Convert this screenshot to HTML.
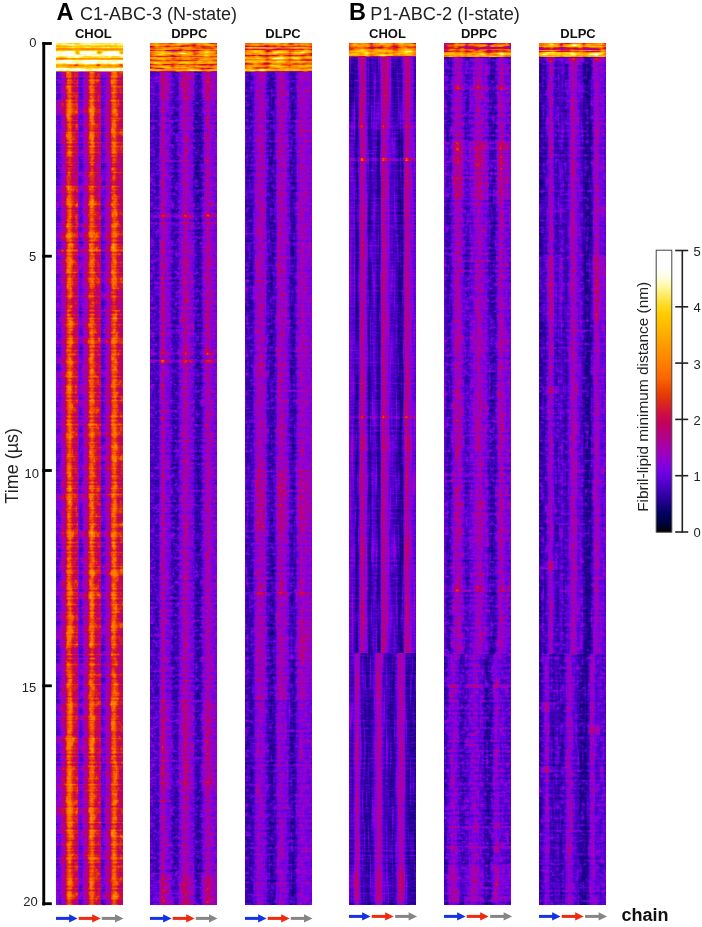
<!DOCTYPE html>
<html><head><meta charset="utf-8"><title>Fibril-lipid minimum distance</title>
<style>
html,body{margin:0;padding:0;background:#fff;}
body{width:702px;height:927px;overflow:hidden;position:relative;}
svg{display:block;position:absolute;left:0;top:0;will-change:transform;}
text{font-family:"Liberation Sans",sans-serif;}
</style></head><body>
<svg width="702" height="927" viewBox="0 0 702 927">
<defs>
<filter id="fac" x="56" y="43" width="67" height="862" filterUnits="userSpaceOnUse" color-interpolation-filters="sRGB">
<feTurbulence type="fractalNoise" baseFrequency="0 0.5" numOctaves="1" seed="3" result="n0"/>
<feColorMatrix in="n0" type="matrix" values="1 0 0 0 0 1 0 0 0 0 1 0 0 0 0 0 0 0 0 1" result="h0"/>
<feComponentTransfer in="h0" result="g0"><feFuncR type="identity"/></feComponentTransfer>
<feComposite in="SourceGraphic" in2="g0" operator="arithmetic" k1="0" k2="1" k3="0.22" k4="-0.110" result="s0"/>
<feTurbulence type="fractalNoise" baseFrequency="0.2 0.14" numOctaves="2" seed="40" result="n1"/>
<feColorMatrix in="n1" type="matrix" values="0 1 0 0 0 0 1 0 0 0 0 1 0 0 0 0 0 0 0 1" result="h1"/>
<feComponentTransfer in="h1" result="g1"><feFuncR type="table" tableValues="0.40 0.40 0.41 0.43 0.46 0.50 0.62 0.78 0.95 1 1"/><feFuncG type="table" tableValues="0.40 0.40 0.41 0.43 0.46 0.50 0.62 0.78 0.95 1 1"/><feFuncB type="table" tableValues="0.40 0.40 0.41 0.43 0.46 0.50 0.62 0.78 0.95 1 1"/></feComponentTransfer>
<feComposite in="s0" in2="g1" operator="arithmetic" k1="0" k2="1" k3="0.2" k4="-0.100" result="s1"/>
<feTurbulence type="fractalNoise" baseFrequency="0.5 0.5" numOctaves="1" seed="77" result="n2"/>
<feColorMatrix in="n2" type="matrix" values="0 0 1 0 0 0 0 1 0 0 0 0 1 0 0 0 0 0 0 1" result="h2"/>
<feComponentTransfer in="h2" result="g2"><feFuncR type="table" tableValues="0.40 0.40 0.41 0.43 0.46 0.50 0.62 0.78 0.95 1 1"/><feFuncG type="table" tableValues="0.40 0.40 0.41 0.43 0.46 0.50 0.62 0.78 0.95 1 1"/><feFuncB type="table" tableValues="0.40 0.40 0.41 0.43 0.46 0.50 0.62 0.78 0.95 1 1"/></feComponentTransfer>
<feComposite in="s1" in2="g2" operator="arithmetic" k1="0" k2="1" k3="0.1" k4="-0.050" result="s2"/>
<feTurbulence type="fractalNoise" baseFrequency="0.01 0.13" numOctaves="1" seed="114" result="n3"/>
<feColorMatrix in="n3" type="matrix" values="1 0 0 0 0 1 0 0 0 0 1 0 0 0 0 0 0 0 0 1" result="h3"/>
<feComponentTransfer in="h3" result="g3"><feFuncR type="table" tableValues="0.40 0.40 0.41 0.43 0.46 0.50 0.62 0.78 0.95 1 1"/><feFuncG type="table" tableValues="0.40 0.40 0.41 0.43 0.46 0.50 0.62 0.78 0.95 1 1"/><feFuncB type="table" tableValues="0.40 0.40 0.41 0.43 0.46 0.50 0.62 0.78 0.95 1 1"/></feComponentTransfer>
<feComposite in="s2" in2="g3" operator="arithmetic" k1="0" k2="1" k3="0.24" k4="-0.120" result="s3"/>
<feComponentTransfer in="s3"><feFuncR type="table" tableValues="0.098 0.098 0.098 0.098 0.192 0.286 0.384 0.478 0.573 0.635 0.678 0.722 0.765 0.812 0.851 0.898 0.941 0.988 1.000 1.000 1.000 1.000 1.000 1.000 1.000 1.000 1.000 1.000 1.000 1.000 1.000 1.000"/><feFuncG type="table" tableValues="0.000 0.000 0.000 0.000 0.000 0.000 0.000 0.000 0.000 0.000 0.000 0.000 0.000 0.055 0.137 0.224 0.310 0.396 0.459 0.522 0.576 0.631 0.686 0.745 0.804 0.859 0.918 0.973 1.000 1.000 1.000 1.000"/><feFuncB type="table" tableValues="0.510 0.510 0.510 0.510 0.647 0.753 0.863 0.890 0.824 0.710 0.592 0.478 0.365 0.251 0.137 0.020 0.000 0.000 0.000 0.000 0.000 0.000 0.000 0.000 0.000 0.137 0.384 0.627 0.875 1.000 1.000 1.000"/></feComponentTransfer></filter>
<filter id="fad" x="150" y="43" width="67" height="862" filterUnits="userSpaceOnUse" color-interpolation-filters="sRGB">
<feTurbulence type="fractalNoise" baseFrequency="0 0.40" numOctaves="1" seed="7" result="n0"/>
<feColorMatrix in="n0" type="matrix" values="1 0 0 0 0 1 0 0 0 0 1 0 0 0 0 0 0 0 0 1" result="h0"/>
<feComponentTransfer in="h0" result="g0"><feFuncR type="identity"/></feComponentTransfer>
<feComposite in="SourceGraphic" in2="g0" operator="arithmetic" k1="0" k2="1" k3="0.14" k4="-0.070" result="s0"/>
<feTurbulence type="fractalNoise" baseFrequency="0.2 0.3" numOctaves="2" seed="44" result="n1"/>
<feColorMatrix in="n1" type="matrix" values="0 1 0 0 0 0 1 0 0 0 0 1 0 0 0 0 0 0 0 1" result="h1"/>
<feComponentTransfer in="h1" result="g1"><feFuncR type="table" tableValues="0.40 0.40 0.41 0.43 0.46 0.50 0.62 0.78 0.95 1 1"/><feFuncG type="table" tableValues="0.40 0.40 0.41 0.43 0.46 0.50 0.62 0.78 0.95 1 1"/><feFuncB type="table" tableValues="0.40 0.40 0.41 0.43 0.46 0.50 0.62 0.78 0.95 1 1"/></feComponentTransfer>
<feComposite in="s0" in2="g1" operator="arithmetic" k1="0" k2="1" k3="0.22" k4="-0.110" result="s1"/>
<feTurbulence type="fractalNoise" baseFrequency="0.45 0.45" numOctaves="1" seed="81" result="n2"/>
<feColorMatrix in="n2" type="matrix" values="0 0 1 0 0 0 0 1 0 0 0 0 1 0 0 0 0 0 0 1" result="h2"/>
<feComponentTransfer in="h2" result="g2"><feFuncR type="table" tableValues="0.40 0.40 0.41 0.43 0.46 0.50 0.62 0.78 0.95 1 1"/><feFuncG type="table" tableValues="0.40 0.40 0.41 0.43 0.46 0.50 0.62 0.78 0.95 1 1"/><feFuncB type="table" tableValues="0.40 0.40 0.41 0.43 0.46 0.50 0.62 0.78 0.95 1 1"/></feComponentTransfer>
<feComposite in="s1" in2="g2" operator="arithmetic" k1="0" k2="1" k3="0.12" k4="-0.060" result="s2"/>
<feComponentTransfer in="s2"><feFuncR type="table" tableValues="0.098 0.098 0.098 0.098 0.192 0.286 0.384 0.478 0.573 0.635 0.678 0.722 0.765 0.812 0.851 0.898 0.941 0.988 1.000 1.000 1.000 1.000 1.000 1.000 1.000 1.000 1.000 1.000 1.000 1.000 1.000 1.000"/><feFuncG type="table" tableValues="0.000 0.000 0.000 0.000 0.000 0.000 0.000 0.000 0.000 0.000 0.000 0.000 0.000 0.055 0.137 0.224 0.310 0.396 0.459 0.522 0.576 0.631 0.686 0.745 0.804 0.859 0.918 0.973 1.000 1.000 1.000 1.000"/><feFuncB type="table" tableValues="0.510 0.510 0.510 0.510 0.647 0.753 0.863 0.890 0.824 0.710 0.592 0.478 0.365 0.251 0.137 0.020 0.000 0.000 0.000 0.000 0.000 0.000 0.000 0.000 0.000 0.137 0.384 0.627 0.875 1.000 1.000 1.000"/></feComponentTransfer></filter>
<filter id="fal" x="245" y="43" width="67" height="862" filterUnits="userSpaceOnUse" color-interpolation-filters="sRGB">
<feTurbulence type="fractalNoise" baseFrequency="0 0.40" numOctaves="1" seed="11" result="n0"/>
<feColorMatrix in="n0" type="matrix" values="1 0 0 0 0 1 0 0 0 0 1 0 0 0 0 0 0 0 0 1" result="h0"/>
<feComponentTransfer in="h0" result="g0"><feFuncR type="identity"/></feComponentTransfer>
<feComposite in="SourceGraphic" in2="g0" operator="arithmetic" k1="0" k2="1" k3="0.13" k4="-0.065" result="s0"/>
<feTurbulence type="fractalNoise" baseFrequency="0.2 0.3" numOctaves="2" seed="48" result="n1"/>
<feColorMatrix in="n1" type="matrix" values="0 1 0 0 0 0 1 0 0 0 0 1 0 0 0 0 0 0 0 1" result="h1"/>
<feComponentTransfer in="h1" result="g1"><feFuncR type="table" tableValues="0.40 0.40 0.41 0.43 0.46 0.50 0.62 0.78 0.95 1 1"/><feFuncG type="table" tableValues="0.40 0.40 0.41 0.43 0.46 0.50 0.62 0.78 0.95 1 1"/><feFuncB type="table" tableValues="0.40 0.40 0.41 0.43 0.46 0.50 0.62 0.78 0.95 1 1"/></feComponentTransfer>
<feComposite in="s0" in2="g1" operator="arithmetic" k1="0" k2="1" k3="0.2" k4="-0.100" result="s1"/>
<feTurbulence type="fractalNoise" baseFrequency="0.45 0.05" numOctaves="1" seed="85" result="n2"/>
<feColorMatrix in="n2" type="matrix" values="0 0 1 0 0 0 0 1 0 0 0 0 1 0 0 0 0 0 0 1" result="h2"/>
<feComponentTransfer in="h2" result="g2"><feFuncR type="table" tableValues="0.40 0.40 0.41 0.43 0.46 0.50 0.62 0.78 0.95 1 1"/><feFuncG type="table" tableValues="0.40 0.40 0.41 0.43 0.46 0.50 0.62 0.78 0.95 1 1"/><feFuncB type="table" tableValues="0.40 0.40 0.41 0.43 0.46 0.50 0.62 0.78 0.95 1 1"/></feComponentTransfer>
<feComposite in="s1" in2="g2" operator="arithmetic" k1="0" k2="1" k3="0.14" k4="-0.070" result="s2"/>
<feComponentTransfer in="s2"><feFuncR type="table" tableValues="0.098 0.098 0.098 0.098 0.192 0.286 0.384 0.478 0.573 0.635 0.678 0.722 0.765 0.812 0.851 0.898 0.941 0.988 1.000 1.000 1.000 1.000 1.000 1.000 1.000 1.000 1.000 1.000 1.000 1.000 1.000 1.000"/><feFuncG type="table" tableValues="0.000 0.000 0.000 0.000 0.000 0.000 0.000 0.000 0.000 0.000 0.000 0.000 0.000 0.055 0.137 0.224 0.310 0.396 0.459 0.522 0.576 0.631 0.686 0.745 0.804 0.859 0.918 0.973 1.000 1.000 1.000 1.000"/><feFuncB type="table" tableValues="0.510 0.510 0.510 0.510 0.647 0.753 0.863 0.890 0.824 0.710 0.592 0.478 0.365 0.251 0.137 0.020 0.000 0.000 0.000 0.000 0.000 0.000 0.000 0.000 0.000 0.137 0.384 0.627 0.875 1.000 1.000 1.000"/></feComponentTransfer></filter>
<filter id="fbc" x="349" y="43" width="67" height="862" filterUnits="userSpaceOnUse" color-interpolation-filters="sRGB">
<feTurbulence type="fractalNoise" baseFrequency="0 0.40" numOctaves="1" seed="19" result="n0"/>
<feColorMatrix in="n0" type="matrix" values="1 0 0 0 0 1 0 0 0 0 1 0 0 0 0 0 0 0 0 1" result="h0"/>
<feComponentTransfer in="h0" result="g0"><feFuncR type="identity"/></feComponentTransfer>
<feComposite in="SourceGraphic" in2="g0" operator="arithmetic" k1="0" k2="1" k3="0.12" k4="-0.060" result="s0"/>
<feTurbulence type="fractalNoise" baseFrequency="0.5 0.03" numOctaves="1" seed="56" result="n1"/>
<feColorMatrix in="n1" type="matrix" values="0 1 0 0 0 0 1 0 0 0 0 1 0 0 0 0 0 0 0 1" result="h1"/>
<feComponentTransfer in="h1" result="g1"><feFuncR type="table" tableValues="0.40 0.40 0.41 0.43 0.46 0.50 0.62 0.78 0.95 1 1"/><feFuncG type="table" tableValues="0.40 0.40 0.41 0.43 0.46 0.50 0.62 0.78 0.95 1 1"/><feFuncB type="table" tableValues="0.40 0.40 0.41 0.43 0.46 0.50 0.62 0.78 0.95 1 1"/></feComponentTransfer>
<feComposite in="s0" in2="g1" operator="arithmetic" k1="0" k2="1" k3="0.2" k4="-0.100" result="s1"/>
<feTurbulence type="fractalNoise" baseFrequency="0.2 0.6" numOctaves="1" seed="93" result="n2"/>
<feColorMatrix in="n2" type="matrix" values="0 0 1 0 0 0 0 1 0 0 0 0 1 0 0 0 0 0 0 1" result="h2"/>
<feComponentTransfer in="h2" result="g2"><feFuncR type="table" tableValues="0.40 0.40 0.41 0.43 0.46 0.50 0.62 0.78 0.95 1 1"/><feFuncG type="table" tableValues="0.40 0.40 0.41 0.43 0.46 0.50 0.62 0.78 0.95 1 1"/><feFuncB type="table" tableValues="0.40 0.40 0.41 0.43 0.46 0.50 0.62 0.78 0.95 1 1"/></feComponentTransfer>
<feComposite in="s1" in2="g2" operator="arithmetic" k1="0" k2="1" k3="0.12" k4="-0.060" result="s2"/>
<feComponentTransfer in="s2"><feFuncR type="table" tableValues="0.098 0.098 0.098 0.098 0.192 0.286 0.384 0.478 0.573 0.635 0.678 0.722 0.765 0.812 0.851 0.898 0.941 0.988 1.000 1.000 1.000 1.000 1.000 1.000 1.000 1.000 1.000 1.000 1.000 1.000 1.000 1.000"/><feFuncG type="table" tableValues="0.000 0.000 0.000 0.000 0.000 0.000 0.000 0.000 0.000 0.000 0.000 0.000 0.000 0.055 0.137 0.224 0.310 0.396 0.459 0.522 0.576 0.631 0.686 0.745 0.804 0.859 0.918 0.973 1.000 1.000 1.000 1.000"/><feFuncB type="table" tableValues="0.510 0.510 0.510 0.510 0.647 0.753 0.863 0.890 0.824 0.710 0.592 0.478 0.365 0.251 0.137 0.020 0.000 0.000 0.000 0.000 0.000 0.000 0.000 0.000 0.000 0.137 0.384 0.627 0.875 1.000 1.000 1.000"/></feComponentTransfer></filter>
<filter id="fbd" x="444" y="43" width="67" height="862" filterUnits="userSpaceOnUse" color-interpolation-filters="sRGB">
<feTurbulence type="fractalNoise" baseFrequency="0 0.40" numOctaves="1" seed="23" result="n0"/>
<feColorMatrix in="n0" type="matrix" values="1 0 0 0 0 1 0 0 0 0 1 0 0 0 0 0 0 0 0 1" result="h0"/>
<feComponentTransfer in="h0" result="g0"><feFuncR type="identity"/></feComponentTransfer>
<feComposite in="SourceGraphic" in2="g0" operator="arithmetic" k1="0" k2="1" k3="0.14" k4="-0.070" result="s0"/>
<feTurbulence type="fractalNoise" baseFrequency="0.2 0.3" numOctaves="2" seed="60" result="n1"/>
<feColorMatrix in="n1" type="matrix" values="0 1 0 0 0 0 1 0 0 0 0 1 0 0 0 0 0 0 0 1" result="h1"/>
<feComponentTransfer in="h1" result="g1"><feFuncR type="table" tableValues="0.40 0.40 0.41 0.43 0.46 0.50 0.62 0.78 0.95 1 1"/><feFuncG type="table" tableValues="0.40 0.40 0.41 0.43 0.46 0.50 0.62 0.78 0.95 1 1"/><feFuncB type="table" tableValues="0.40 0.40 0.41 0.43 0.46 0.50 0.62 0.78 0.95 1 1"/></feComponentTransfer>
<feComposite in="s0" in2="g1" operator="arithmetic" k1="0" k2="1" k3="0.24" k4="-0.120" result="s1"/>
<feTurbulence type="fractalNoise" baseFrequency="0.45 0.08" numOctaves="1" seed="97" result="n2"/>
<feColorMatrix in="n2" type="matrix" values="0 0 1 0 0 0 0 1 0 0 0 0 1 0 0 0 0 0 0 1" result="h2"/>
<feComponentTransfer in="h2" result="g2"><feFuncR type="table" tableValues="0.40 0.40 0.41 0.43 0.46 0.50 0.62 0.78 0.95 1 1"/><feFuncG type="table" tableValues="0.40 0.40 0.41 0.43 0.46 0.50 0.62 0.78 0.95 1 1"/><feFuncB type="table" tableValues="0.40 0.40 0.41 0.43 0.46 0.50 0.62 0.78 0.95 1 1"/></feComponentTransfer>
<feComposite in="s1" in2="g2" operator="arithmetic" k1="0" k2="1" k3="0.14" k4="-0.070" result="s2"/>
<feComponentTransfer in="s2"><feFuncR type="table" tableValues="0.098 0.098 0.098 0.098 0.192 0.286 0.384 0.478 0.573 0.635 0.678 0.722 0.765 0.812 0.851 0.898 0.941 0.988 1.000 1.000 1.000 1.000 1.000 1.000 1.000 1.000 1.000 1.000 1.000 1.000 1.000 1.000"/><feFuncG type="table" tableValues="0.000 0.000 0.000 0.000 0.000 0.000 0.000 0.000 0.000 0.000 0.000 0.000 0.000 0.055 0.137 0.224 0.310 0.396 0.459 0.522 0.576 0.631 0.686 0.745 0.804 0.859 0.918 0.973 1.000 1.000 1.000 1.000"/><feFuncB type="table" tableValues="0.510 0.510 0.510 0.510 0.647 0.753 0.863 0.890 0.824 0.710 0.592 0.478 0.365 0.251 0.137 0.020 0.000 0.000 0.000 0.000 0.000 0.000 0.000 0.000 0.000 0.137 0.384 0.627 0.875 1.000 1.000 1.000"/></feComponentTransfer></filter>
<filter id="fbl" x="539" y="43" width="67" height="862" filterUnits="userSpaceOnUse" color-interpolation-filters="sRGB">
<feTurbulence type="fractalNoise" baseFrequency="0 0.40" numOctaves="1" seed="29" result="n0"/>
<feColorMatrix in="n0" type="matrix" values="1 0 0 0 0 1 0 0 0 0 1 0 0 0 0 0 0 0 0 1" result="h0"/>
<feComponentTransfer in="h0" result="g0"><feFuncR type="identity"/></feComponentTransfer>
<feComposite in="SourceGraphic" in2="g0" operator="arithmetic" k1="0" k2="1" k3="0.13" k4="-0.065" result="s0"/>
<feTurbulence type="fractalNoise" baseFrequency="0.2 0.3" numOctaves="2" seed="66" result="n1"/>
<feColorMatrix in="n1" type="matrix" values="0 1 0 0 0 0 1 0 0 0 0 1 0 0 0 0 0 0 0 1" result="h1"/>
<feComponentTransfer in="h1" result="g1"><feFuncR type="table" tableValues="0.40 0.40 0.41 0.43 0.46 0.50 0.62 0.78 0.95 1 1"/><feFuncG type="table" tableValues="0.40 0.40 0.41 0.43 0.46 0.50 0.62 0.78 0.95 1 1"/><feFuncB type="table" tableValues="0.40 0.40 0.41 0.43 0.46 0.50 0.62 0.78 0.95 1 1"/></feComponentTransfer>
<feComposite in="s0" in2="g1" operator="arithmetic" k1="0" k2="1" k3="0.2" k4="-0.100" result="s1"/>
<feTurbulence type="fractalNoise" baseFrequency="0.45 0.05" numOctaves="1" seed="103" result="n2"/>
<feColorMatrix in="n2" type="matrix" values="0 0 1 0 0 0 0 1 0 0 0 0 1 0 0 0 0 0 0 1" result="h2"/>
<feComponentTransfer in="h2" result="g2"><feFuncR type="table" tableValues="0.40 0.40 0.41 0.43 0.46 0.50 0.62 0.78 0.95 1 1"/><feFuncG type="table" tableValues="0.40 0.40 0.41 0.43 0.46 0.50 0.62 0.78 0.95 1 1"/><feFuncB type="table" tableValues="0.40 0.40 0.41 0.43 0.46 0.50 0.62 0.78 0.95 1 1"/></feComponentTransfer>
<feComposite in="s1" in2="g2" operator="arithmetic" k1="0" k2="1" k3="0.14" k4="-0.070" result="s2"/>
<feComponentTransfer in="s2"><feFuncR type="table" tableValues="0.098 0.098 0.098 0.098 0.192 0.286 0.384 0.478 0.573 0.635 0.678 0.722 0.765 0.812 0.851 0.898 0.941 0.988 1.000 1.000 1.000 1.000 1.000 1.000 1.000 1.000 1.000 1.000 1.000 1.000 1.000 1.000"/><feFuncG type="table" tableValues="0.000 0.000 0.000 0.000 0.000 0.000 0.000 0.000 0.000 0.000 0.000 0.000 0.000 0.055 0.137 0.224 0.310 0.396 0.459 0.522 0.576 0.631 0.686 0.745 0.804 0.859 0.918 0.973 1.000 1.000 1.000 1.000"/><feFuncB type="table" tableValues="0.510 0.510 0.510 0.510 0.647 0.753 0.863 0.890 0.824 0.710 0.592 0.478 0.365 0.251 0.137 0.020 0.000 0.000 0.000 0.000 0.000 0.000 0.000 0.000 0.000 0.137 0.384 0.627 0.875 1.000 1.000 1.000"/></feComponentTransfer></filter>
<filter id="tac" x="56" y="43" width="67" height="29.0" filterUnits="userSpaceOnUse" color-interpolation-filters="sRGB">
<feTurbulence type="fractalNoise" baseFrequency="0.06 0.5" numOctaves="2" seed="514" result="n0"/>
<feColorMatrix in="n0" type="matrix" values="1 0 0 0 0 1 0 0 0 0 1 0 0 0 0 0 0 0 0 1" result="g0"/>
<feComposite in="SourceGraphic" in2="g0" operator="arithmetic" k1="0" k2="1" k3="0.22" k4="-0.110" result="s0"/>
<feTurbulence type="fractalNoise" baseFrequency="0.25 0.3" numOctaves="1" seed="527" result="n1"/>
<feColorMatrix in="n1" type="matrix" values="0 1 0 0 0 0 1 0 0 0 0 1 0 0 0 0 0 0 0 1" result="g1"/>
<feComposite in="s0" in2="g1" operator="arithmetic" k1="0" k2="1" k3="0.14" k4="-0.070" result="s1"/>
<feComponentTransfer in="s1"><feFuncR type="table" tableValues="0.098 0.098 0.098 0.098 0.192 0.286 0.384 0.478 0.573 0.635 0.678 0.722 0.765 0.812 0.851 0.898 0.941 0.988 1.000 1.000 1.000 1.000 1.000 1.000 1.000 1.000 1.000 1.000 1.000 1.000 1.000 1.000"/><feFuncG type="table" tableValues="0.000 0.000 0.000 0.000 0.000 0.000 0.000 0.000 0.000 0.000 0.000 0.000 0.000 0.055 0.137 0.224 0.310 0.396 0.459 0.522 0.576 0.631 0.686 0.745 0.804 0.859 0.918 0.973 1.000 1.000 1.000 1.000"/><feFuncB type="table" tableValues="0.510 0.510 0.510 0.510 0.647 0.753 0.863 0.890 0.824 0.710 0.592 0.478 0.365 0.251 0.137 0.020 0.000 0.000 0.000 0.000 0.000 0.000 0.000 0.000 0.000 0.137 0.384 0.627 0.875 1.000 1.000 1.000"/></feComponentTransfer></filter>
<filter id="tad" x="150" y="43" width="67" height="29.0" filterUnits="userSpaceOnUse" color-interpolation-filters="sRGB">
<feTurbulence type="fractalNoise" baseFrequency="0.07 0.4" numOctaves="2" seed="518" result="n0"/>
<feColorMatrix in="n0" type="matrix" values="1 0 0 0 0 1 0 0 0 0 1 0 0 0 0 0 0 0 0 1" result="g0"/>
<feComposite in="SourceGraphic" in2="g0" operator="arithmetic" k1="0" k2="1" k3="0.46" k4="-0.230" result="s0"/>
<feTurbulence type="fractalNoise" baseFrequency="0.2 0.3" numOctaves="1" seed="531" result="n1"/>
<feColorMatrix in="n1" type="matrix" values="0 1 0 0 0 0 1 0 0 0 0 1 0 0 0 0 0 0 0 1" result="g1"/>
<feComposite in="s0" in2="g1" operator="arithmetic" k1="0" k2="1" k3="0.26" k4="-0.130" result="s1"/>
<feComponentTransfer in="s1"><feFuncR type="table" tableValues="0.098 0.098 0.098 0.098 0.192 0.286 0.384 0.478 0.573 0.635 0.678 0.722 0.765 0.812 0.851 0.898 0.941 0.988 1.000 1.000 1.000 1.000 1.000 1.000 1.000 1.000 1.000 1.000 1.000 1.000 1.000 1.000"/><feFuncG type="table" tableValues="0.000 0.000 0.000 0.000 0.000 0.000 0.000 0.000 0.000 0.000 0.000 0.000 0.000 0.055 0.137 0.224 0.310 0.396 0.459 0.522 0.576 0.631 0.686 0.745 0.804 0.859 0.918 0.973 1.000 1.000 1.000 1.000"/><feFuncB type="table" tableValues="0.510 0.510 0.510 0.510 0.647 0.753 0.863 0.890 0.824 0.710 0.592 0.478 0.365 0.251 0.137 0.020 0.000 0.000 0.000 0.000 0.000 0.000 0.000 0.000 0.000 0.137 0.384 0.627 0.875 1.000 1.000 1.000"/></feComponentTransfer></filter>
<filter id="tal" x="245" y="43" width="67" height="29.0" filterUnits="userSpaceOnUse" color-interpolation-filters="sRGB">
<feTurbulence type="fractalNoise" baseFrequency="0.07 0.4" numOctaves="2" seed="522" result="n0"/>
<feColorMatrix in="n0" type="matrix" values="1 0 0 0 0 1 0 0 0 0 1 0 0 0 0 0 0 0 0 1" result="g0"/>
<feComposite in="SourceGraphic" in2="g0" operator="arithmetic" k1="0" k2="1" k3="0.46" k4="-0.230" result="s0"/>
<feTurbulence type="fractalNoise" baseFrequency="0.2 0.3" numOctaves="1" seed="535" result="n1"/>
<feColorMatrix in="n1" type="matrix" values="0 1 0 0 0 0 1 0 0 0 0 1 0 0 0 0 0 0 0 1" result="g1"/>
<feComposite in="s0" in2="g1" operator="arithmetic" k1="0" k2="1" k3="0.26" k4="-0.130" result="s1"/>
<feComponentTransfer in="s1"><feFuncR type="table" tableValues="0.098 0.098 0.098 0.098 0.192 0.286 0.384 0.478 0.573 0.635 0.678 0.722 0.765 0.812 0.851 0.898 0.941 0.988 1.000 1.000 1.000 1.000 1.000 1.000 1.000 1.000 1.000 1.000 1.000 1.000 1.000 1.000"/><feFuncG type="table" tableValues="0.000 0.000 0.000 0.000 0.000 0.000 0.000 0.000 0.000 0.000 0.000 0.000 0.000 0.055 0.137 0.224 0.310 0.396 0.459 0.522 0.576 0.631 0.686 0.745 0.804 0.859 0.918 0.973 1.000 1.000 1.000 1.000"/><feFuncB type="table" tableValues="0.510 0.510 0.510 0.510 0.647 0.753 0.863 0.890 0.824 0.710 0.592 0.478 0.365 0.251 0.137 0.020 0.000 0.000 0.000 0.000 0.000 0.000 0.000 0.000 0.000 0.137 0.384 0.627 0.875 1.000 1.000 1.000"/></feComponentTransfer></filter>
<filter id="tbc" x="349" y="43" width="67" height="14.0" filterUnits="userSpaceOnUse" color-interpolation-filters="sRGB">
<feTurbulence type="fractalNoise" baseFrequency="0.07 0.4" numOctaves="2" seed="530" result="n0"/>
<feColorMatrix in="n0" type="matrix" values="1 0 0 0 0 1 0 0 0 0 1 0 0 0 0 0 0 0 0 1" result="g0"/>
<feComposite in="SourceGraphic" in2="g0" operator="arithmetic" k1="0" k2="1" k3="0.46" k4="-0.230" result="s0"/>
<feTurbulence type="fractalNoise" baseFrequency="0.2 0.3" numOctaves="1" seed="543" result="n1"/>
<feColorMatrix in="n1" type="matrix" values="0 1 0 0 0 0 1 0 0 0 0 1 0 0 0 0 0 0 0 1" result="g1"/>
<feComposite in="s0" in2="g1" operator="arithmetic" k1="0" k2="1" k3="0.26" k4="-0.130" result="s1"/>
<feComponentTransfer in="s1"><feFuncR type="table" tableValues="0.098 0.098 0.098 0.098 0.192 0.286 0.384 0.478 0.573 0.635 0.678 0.722 0.765 0.812 0.851 0.898 0.941 0.988 1.000 1.000 1.000 1.000 1.000 1.000 1.000 1.000 1.000 1.000 1.000 1.000 1.000 1.000"/><feFuncG type="table" tableValues="0.000 0.000 0.000 0.000 0.000 0.000 0.000 0.000 0.000 0.000 0.000 0.000 0.000 0.055 0.137 0.224 0.310 0.396 0.459 0.522 0.576 0.631 0.686 0.745 0.804 0.859 0.918 0.973 1.000 1.000 1.000 1.000"/><feFuncB type="table" tableValues="0.510 0.510 0.510 0.510 0.647 0.753 0.863 0.890 0.824 0.710 0.592 0.478 0.365 0.251 0.137 0.020 0.000 0.000 0.000 0.000 0.000 0.000 0.000 0.000 0.000 0.137 0.384 0.627 0.875 1.000 1.000 1.000"/></feComponentTransfer></filter>
<filter id="tbd" x="444" y="43" width="67" height="14.5" filterUnits="userSpaceOnUse" color-interpolation-filters="sRGB">
<feTurbulence type="fractalNoise" baseFrequency="0.07 0.4" numOctaves="2" seed="534" result="n0"/>
<feColorMatrix in="n0" type="matrix" values="1 0 0 0 0 1 0 0 0 0 1 0 0 0 0 0 0 0 0 1" result="g0"/>
<feComposite in="SourceGraphic" in2="g0" operator="arithmetic" k1="0" k2="1" k3="0.46" k4="-0.230" result="s0"/>
<feTurbulence type="fractalNoise" baseFrequency="0.2 0.3" numOctaves="1" seed="547" result="n1"/>
<feColorMatrix in="n1" type="matrix" values="0 1 0 0 0 0 1 0 0 0 0 1 0 0 0 0 0 0 0 1" result="g1"/>
<feComposite in="s0" in2="g1" operator="arithmetic" k1="0" k2="1" k3="0.26" k4="-0.130" result="s1"/>
<feComponentTransfer in="s1"><feFuncR type="table" tableValues="0.098 0.098 0.098 0.098 0.192 0.286 0.384 0.478 0.573 0.635 0.678 0.722 0.765 0.812 0.851 0.898 0.941 0.988 1.000 1.000 1.000 1.000 1.000 1.000 1.000 1.000 1.000 1.000 1.000 1.000 1.000 1.000"/><feFuncG type="table" tableValues="0.000 0.000 0.000 0.000 0.000 0.000 0.000 0.000 0.000 0.000 0.000 0.000 0.000 0.055 0.137 0.224 0.310 0.396 0.459 0.522 0.576 0.631 0.686 0.745 0.804 0.859 0.918 0.973 1.000 1.000 1.000 1.000"/><feFuncB type="table" tableValues="0.510 0.510 0.510 0.510 0.647 0.753 0.863 0.890 0.824 0.710 0.592 0.478 0.365 0.251 0.137 0.020 0.000 0.000 0.000 0.000 0.000 0.000 0.000 0.000 0.000 0.137 0.384 0.627 0.875 1.000 1.000 1.000"/></feComponentTransfer></filter>
<filter id="tbl" x="539" y="43" width="67" height="14.5" filterUnits="userSpaceOnUse" color-interpolation-filters="sRGB">
<feTurbulence type="fractalNoise" baseFrequency="0.07 0.4" numOctaves="2" seed="540" result="n0"/>
<feColorMatrix in="n0" type="matrix" values="1 0 0 0 0 1 0 0 0 0 1 0 0 0 0 0 0 0 0 1" result="g0"/>
<feComposite in="SourceGraphic" in2="g0" operator="arithmetic" k1="0" k2="1" k3="0.46" k4="-0.230" result="s0"/>
<feTurbulence type="fractalNoise" baseFrequency="0.2 0.3" numOctaves="1" seed="553" result="n1"/>
<feColorMatrix in="n1" type="matrix" values="0 1 0 0 0 0 1 0 0 0 0 1 0 0 0 0 0 0 0 1" result="g1"/>
<feComposite in="s0" in2="g1" operator="arithmetic" k1="0" k2="1" k3="0.26" k4="-0.130" result="s1"/>
<feComponentTransfer in="s1"><feFuncR type="table" tableValues="0.098 0.098 0.098 0.098 0.192 0.286 0.384 0.478 0.573 0.635 0.678 0.722 0.765 0.812 0.851 0.898 0.941 0.988 1.000 1.000 1.000 1.000 1.000 1.000 1.000 1.000 1.000 1.000 1.000 1.000 1.000 1.000"/><feFuncG type="table" tableValues="0.000 0.000 0.000 0.000 0.000 0.000 0.000 0.000 0.000 0.000 0.000 0.000 0.000 0.055 0.137 0.224 0.310 0.396 0.459 0.522 0.576 0.631 0.686 0.745 0.804 0.859 0.918 0.973 1.000 1.000 1.000 1.000"/><feFuncB type="table" tableValues="0.510 0.510 0.510 0.510 0.647 0.753 0.863 0.890 0.824 0.710 0.592 0.478 0.365 0.251 0.137 0.020 0.000 0.000 0.000 0.000 0.000 0.000 0.000 0.000 0.000 0.137 0.384 0.627 0.875 1.000 1.000 1.000"/></feComponentTransfer></filter>
<linearGradient id="cac" gradientUnits="userSpaceOnUse" x1="56" y1="0" x2="123" y2="0">
<stop offset="0.0000" stop-color="#333333"/>
<stop offset="0.0045" stop-color="#333333"/>
<stop offset="0.0269" stop-color="#2e2e2e"/>
<stop offset="0.0493" stop-color="#303030"/>
<stop offset="0.0716" stop-color="#383838"/>
<stop offset="0.0866" stop-color="#474747"/>
<stop offset="0.1090" stop-color="#4c4c4c"/>
<stop offset="0.1313" stop-color="#4c4c4c"/>
<stop offset="0.1463" stop-color="#5c5c5c"/>
<stop offset="0.1612" stop-color="#737373"/>
<stop offset="0.1806" stop-color="#828282"/>
<stop offset="0.1985" stop-color="#898989"/>
<stop offset="0.2179" stop-color="#858585"/>
<stop offset="0.2373" stop-color="#787878"/>
<stop offset="0.2552" stop-color="#6b6b6b"/>
<stop offset="0.2806" stop-color="#666666"/>
<stop offset="0.3104" stop-color="#666666"/>
<stop offset="0.3299" stop-color="#636363"/>
<stop offset="0.3378" stop-color="#333333"/>
<stop offset="0.3602" stop-color="#2e2e2e"/>
<stop offset="0.3826" stop-color="#303030"/>
<stop offset="0.4050" stop-color="#383838"/>
<stop offset="0.4199" stop-color="#474747"/>
<stop offset="0.4423" stop-color="#4c4c4c"/>
<stop offset="0.4647" stop-color="#4c4c4c"/>
<stop offset="0.4796" stop-color="#5c5c5c"/>
<stop offset="0.4945" stop-color="#737373"/>
<stop offset="0.5139" stop-color="#828282"/>
<stop offset="0.5318" stop-color="#898989"/>
<stop offset="0.5512" stop-color="#858585"/>
<stop offset="0.5706" stop-color="#787878"/>
<stop offset="0.5886" stop-color="#6b6b6b"/>
<stop offset="0.6139" stop-color="#666666"/>
<stop offset="0.6438" stop-color="#666666"/>
<stop offset="0.6632" stop-color="#636363"/>
<stop offset="0.6711" stop-color="#333333"/>
<stop offset="0.6935" stop-color="#2e2e2e"/>
<stop offset="0.7159" stop-color="#303030"/>
<stop offset="0.7383" stop-color="#383838"/>
<stop offset="0.7532" stop-color="#474747"/>
<stop offset="0.7756" stop-color="#4c4c4c"/>
<stop offset="0.7980" stop-color="#4c4c4c"/>
<stop offset="0.8129" stop-color="#5c5c5c"/>
<stop offset="0.8279" stop-color="#737373"/>
<stop offset="0.8473" stop-color="#828282"/>
<stop offset="0.8652" stop-color="#898989"/>
<stop offset="0.8846" stop-color="#858585"/>
<stop offset="0.9040" stop-color="#787878"/>
<stop offset="0.9219" stop-color="#6b6b6b"/>
<stop offset="0.9473" stop-color="#666666"/>
<stop offset="0.9771" stop-color="#666666"/>
<stop offset="0.9965" stop-color="#636363"/>
<stop offset="1.0000" stop-color="#666666"/>
</linearGradient>
<linearGradient id="cad" gradientUnits="userSpaceOnUse" x1="150" y1="0" x2="217" y2="0">
<stop offset="0.0000" stop-color="#2b2b2b"/>
<stop offset="0.0299" stop-color="#292929"/>
<stop offset="0.0597" stop-color="#292929"/>
<stop offset="0.0896" stop-color="#242424"/>
<stop offset="0.1269" stop-color="#242424"/>
<stop offset="0.1493" stop-color="#383838"/>
<stop offset="0.1716" stop-color="#464646"/>
<stop offset="0.1910" stop-color="#4f4f4f"/>
<stop offset="0.2164" stop-color="#464646"/>
<stop offset="0.2388" stop-color="#3c3c3c"/>
<stop offset="0.2687" stop-color="#383838"/>
<stop offset="0.2985" stop-color="#333333"/>
<stop offset="0.3358" stop-color="#262626"/>
<stop offset="0.3731" stop-color="#212121"/>
<stop offset="0.4179" stop-color="#242424"/>
<stop offset="0.4403" stop-color="#333333"/>
<stop offset="0.4701" stop-color="#3a3a3a"/>
<stop offset="0.5000" stop-color="#454545"/>
<stop offset="0.5284" stop-color="#4e4e4e"/>
<stop offset="0.5597" stop-color="#454545"/>
<stop offset="0.5821" stop-color="#3c3c3c"/>
<stop offset="0.6119" stop-color="#3a3a3a"/>
<stop offset="0.6493" stop-color="#333333"/>
<stop offset="0.6716" stop-color="#242424"/>
<stop offset="0.7164" stop-color="#1f1f1f"/>
<stop offset="0.7612" stop-color="#212121"/>
<stop offset="0.7836" stop-color="#303030"/>
<stop offset="0.8134" stop-color="#3c3c3c"/>
<stop offset="0.8433" stop-color="#464646"/>
<stop offset="0.8687" stop-color="#4c4c4c"/>
<stop offset="0.8955" stop-color="#454545"/>
<stop offset="0.9254" stop-color="#3a3a3a"/>
<stop offset="0.9627" stop-color="#383838"/>
<stop offset="1.0000" stop-color="#363636"/>
</linearGradient>
<linearGradient id="cal" gradientUnits="userSpaceOnUse" x1="245" y1="0" x2="312" y2="0">
<stop offset="0.0000" stop-color="#2b2b2b"/>
<stop offset="0.0299" stop-color="#262626"/>
<stop offset="0.0746" stop-color="#212121"/>
<stop offset="0.1194" stop-color="#242424"/>
<stop offset="0.1493" stop-color="#383838"/>
<stop offset="0.1866" stop-color="#464646"/>
<stop offset="0.2239" stop-color="#484848"/>
<stop offset="0.2687" stop-color="#454545"/>
<stop offset="0.3060" stop-color="#3c3c3c"/>
<stop offset="0.3284" stop-color="#2b2b2b"/>
<stop offset="0.3731" stop-color="#212121"/>
<stop offset="0.4179" stop-color="#1f1f1f"/>
<stop offset="0.4552" stop-color="#292929"/>
<stop offset="0.4851" stop-color="#3f3f3f"/>
<stop offset="0.5224" stop-color="#4a4a4a"/>
<stop offset="0.5672" stop-color="#454545"/>
<stop offset="0.6119" stop-color="#3f3f3f"/>
<stop offset="0.6493" stop-color="#333333"/>
<stop offset="0.6791" stop-color="#242424"/>
<stop offset="0.7164" stop-color="#1f1f1f"/>
<stop offset="0.7537" stop-color="#242424"/>
<stop offset="0.7836" stop-color="#383838"/>
<stop offset="0.8209" stop-color="#434343"/>
<stop offset="0.8507" stop-color="#464646"/>
<stop offset="0.8955" stop-color="#414141"/>
<stop offset="0.9403" stop-color="#3d3d3d"/>
<stop offset="1.0000" stop-color="#3a3a3a"/>
</linearGradient>
<linearGradient id="cbc" gradientUnits="userSpaceOnUse" x1="349" y1="0" x2="416" y2="0">
<stop offset="0.0000" stop-color="#303030"/>
<stop offset="0.0224" stop-color="#333333"/>
<stop offset="0.0597" stop-color="#303030"/>
<stop offset="0.0896" stop-color="#292929"/>
<stop offset="0.1045" stop-color="#1c1c1c"/>
<stop offset="0.1343" stop-color="#1c1c1c"/>
<stop offset="0.1493" stop-color="#2b2b2b"/>
<stop offset="0.1672" stop-color="#454545"/>
<stop offset="0.1881" stop-color="#595959"/>
<stop offset="0.2075" stop-color="#525252"/>
<stop offset="0.2269" stop-color="#474747"/>
<stop offset="0.2463" stop-color="#424242"/>
<stop offset="0.2687" stop-color="#363636"/>
<stop offset="0.2881" stop-color="#212121"/>
<stop offset="0.3134" stop-color="#1c1c1c"/>
<stop offset="0.3358" stop-color="#262626"/>
<stop offset="0.3657" stop-color="#2e2e2e"/>
<stop offset="0.4030" stop-color="#2b2b2b"/>
<stop offset="0.4254" stop-color="#1f1f1f"/>
<stop offset="0.4552" stop-color="#1a1a1a"/>
<stop offset="0.4701" stop-color="#292929"/>
<stop offset="0.4866" stop-color="#454545"/>
<stop offset="0.5060" stop-color="#595959"/>
<stop offset="0.5254" stop-color="#525252"/>
<stop offset="0.5463" stop-color="#474747"/>
<stop offset="0.5701" stop-color="#424242"/>
<stop offset="0.5970" stop-color="#383838"/>
<stop offset="0.6194" stop-color="#2e2e2e"/>
<stop offset="0.6567" stop-color="#292929"/>
<stop offset="0.7015" stop-color="#292929"/>
<stop offset="0.7388" stop-color="#1f1f1f"/>
<stop offset="0.7687" stop-color="#1a1a1a"/>
<stop offset="0.7985" stop-color="#1c1c1c"/>
<stop offset="0.8179" stop-color="#303030"/>
<stop offset="0.8358" stop-color="#4a4a4a"/>
<stop offset="0.8537" stop-color="#595959"/>
<stop offset="0.8731" stop-color="#525252"/>
<stop offset="0.8955" stop-color="#474747"/>
<stop offset="0.9179" stop-color="#424242"/>
<stop offset="0.9403" stop-color="#363636"/>
<stop offset="1.0000" stop-color="#303030"/>
</linearGradient>
<linearGradient id="cbc2" gradientUnits="userSpaceOnUse" x1="349" y1="0" x2="416" y2="0">
<stop offset="0.0000" stop-color="#2e2e2e"/>
<stop offset="0.0299" stop-color="#292929"/>
<stop offset="0.0597" stop-color="#252525"/>
<stop offset="0.0791" stop-color="#333333"/>
<stop offset="0.0985" stop-color="#454545"/>
<stop offset="0.1224" stop-color="#4f4f4f"/>
<stop offset="0.1463" stop-color="#454545"/>
<stop offset="0.1672" stop-color="#303030"/>
<stop offset="0.1940" stop-color="#212121"/>
<stop offset="0.2164" stop-color="#262626"/>
<stop offset="0.2537" stop-color="#1f1f1f"/>
<stop offset="0.3134" stop-color="#1f1f1f"/>
<stop offset="0.3582" stop-color="#242424"/>
<stop offset="0.3821" stop-color="#333333"/>
<stop offset="0.4149" stop-color="#464646"/>
<stop offset="0.4478" stop-color="#4f4f4f"/>
<stop offset="0.4806" stop-color="#464646"/>
<stop offset="0.5075" stop-color="#2e2e2e"/>
<stop offset="0.5373" stop-color="#262626"/>
<stop offset="0.5672" stop-color="#292929"/>
<stop offset="0.6119" stop-color="#1f1f1f"/>
<stop offset="0.6716" stop-color="#1f1f1f"/>
<stop offset="0.7015" stop-color="#292929"/>
<stop offset="0.7358" stop-color="#424242"/>
<stop offset="0.7806" stop-color="#4f4f4f"/>
<stop offset="0.8179" stop-color="#424242"/>
<stop offset="0.8433" stop-color="#2b2b2b"/>
<stop offset="0.8806" stop-color="#1f1f1f"/>
<stop offset="0.9403" stop-color="#1f1f1f"/>
<stop offset="1.0000" stop-color="#1f1f1f"/>
</linearGradient>
<linearGradient id="cbd" gradientUnits="userSpaceOnUse" x1="444" y1="0" x2="511" y2="0">
<stop offset="0.0000" stop-color="#363636"/>
<stop offset="0.0299" stop-color="#262626"/>
<stop offset="0.0597" stop-color="#212121"/>
<stop offset="0.1045" stop-color="#242424"/>
<stop offset="0.1343" stop-color="#363636"/>
<stop offset="0.1716" stop-color="#444444"/>
<stop offset="0.2090" stop-color="#494949"/>
<stop offset="0.2463" stop-color="#424242"/>
<stop offset="0.2761" stop-color="#383838"/>
<stop offset="0.3134" stop-color="#292929"/>
<stop offset="0.3582" stop-color="#262626"/>
<stop offset="0.3955" stop-color="#303030"/>
<stop offset="0.4328" stop-color="#333333"/>
<stop offset="0.4701" stop-color="#3f3f3f"/>
<stop offset="0.5224" stop-color="#474747"/>
<stop offset="0.5672" stop-color="#404040"/>
<stop offset="0.5970" stop-color="#383838"/>
<stop offset="0.6418" stop-color="#363636"/>
<stop offset="0.6716" stop-color="#262626"/>
<stop offset="0.7164" stop-color="#212121"/>
<stop offset="0.7612" stop-color="#212121"/>
<stop offset="0.7910" stop-color="#2e2e2e"/>
<stop offset="0.8209" stop-color="#424242"/>
<stop offset="0.8507" stop-color="#494949"/>
<stop offset="0.8806" stop-color="#404040"/>
<stop offset="0.9104" stop-color="#383838"/>
<stop offset="0.9552" stop-color="#363636"/>
<stop offset="1.0000" stop-color="#333333"/>
</linearGradient>
<linearGradient id="cbl" gradientUnits="userSpaceOnUse" x1="539" y1="0" x2="606" y2="0">
<stop offset="0.0000" stop-color="#212121"/>
<stop offset="0.0299" stop-color="#1f1f1f"/>
<stop offset="0.0597" stop-color="#242424"/>
<stop offset="0.0896" stop-color="#212121"/>
<stop offset="0.1194" stop-color="#292929"/>
<stop offset="0.1493" stop-color="#3d3d3d"/>
<stop offset="0.1761" stop-color="#484848"/>
<stop offset="0.2015" stop-color="#3d3d3d"/>
<stop offset="0.2313" stop-color="#292929"/>
<stop offset="0.2761" stop-color="#242424"/>
<stop offset="0.3134" stop-color="#2b2b2b"/>
<stop offset="0.3433" stop-color="#2e2e2e"/>
<stop offset="0.3731" stop-color="#242424"/>
<stop offset="0.4179" stop-color="#252525"/>
<stop offset="0.4478" stop-color="#303030"/>
<stop offset="0.4776" stop-color="#424242"/>
<stop offset="0.5134" stop-color="#4c4c4c"/>
<stop offset="0.5448" stop-color="#424242"/>
<stop offset="0.5746" stop-color="#363636"/>
<stop offset="0.6119" stop-color="#303030"/>
<stop offset="0.6493" stop-color="#2b2b2b"/>
<stop offset="0.6716" stop-color="#1f1f1f"/>
<stop offset="0.7015" stop-color="#1a1a1a"/>
<stop offset="0.7612" stop-color="#1a1a1a"/>
<stop offset="0.7985" stop-color="#292929"/>
<stop offset="0.8284" stop-color="#404040"/>
<stop offset="0.8537" stop-color="#484848"/>
<stop offset="0.8806" stop-color="#424242"/>
<stop offset="0.9104" stop-color="#363636"/>
<stop offset="0.9552" stop-color="#333333"/>
<stop offset="1.0000" stop-color="#303030"/>
</linearGradient>
<linearGradient id="cbd2" gradientUnits="userSpaceOnUse" x1="444" y1="0" x2="511" y2="0">
<stop offset="0.0000" stop-color="#222222"/>
<stop offset="0.0373" stop-color="#222222"/>
<stop offset="0.0672" stop-color="#2f2f2f"/>
<stop offset="0.1045" stop-color="#3a3a3a"/>
<stop offset="0.1418" stop-color="#3e3e3e"/>
<stop offset="0.1791" stop-color="#393939"/>
<stop offset="0.2090" stop-color="#313131"/>
<stop offset="0.2463" stop-color="#262626"/>
<stop offset="0.2910" stop-color="#242424"/>
<stop offset="0.3284" stop-color="#2b2b2b"/>
<stop offset="0.3657" stop-color="#2d2d2d"/>
<stop offset="0.4030" stop-color="#363636"/>
<stop offset="0.4552" stop-color="#3c3c3c"/>
<stop offset="0.5000" stop-color="#373737"/>
<stop offset="0.5299" stop-color="#313131"/>
<stop offset="0.5746" stop-color="#2f2f2f"/>
<stop offset="0.6045" stop-color="#242424"/>
<stop offset="0.6493" stop-color="#202020"/>
<stop offset="0.6940" stop-color="#202020"/>
<stop offset="0.7239" stop-color="#292929"/>
<stop offset="0.7537" stop-color="#393939"/>
<stop offset="0.7836" stop-color="#3e3e3e"/>
<stop offset="0.8134" stop-color="#373737"/>
<stop offset="0.8433" stop-color="#313131"/>
<stop offset="0.8881" stop-color="#2f2f2f"/>
<stop offset="0.9328" stop-color="#2d2d2d"/>
<stop offset="1.0000" stop-color="#2d2d2d"/>
</linearGradient>
<linearGradient id="cbl2" gradientUnits="userSpaceOnUse" x1="539.0" y1="0" x2="606" y2="0">
<stop offset="0.0000" stop-color="#222222"/>
<stop offset="0.0299" stop-color="#202020"/>
<stop offset="0.0597" stop-color="#262626"/>
<stop offset="0.0896" stop-color="#373737"/>
<stop offset="0.1164" stop-color="#404040"/>
<stop offset="0.1418" stop-color="#373737"/>
<stop offset="0.1716" stop-color="#262626"/>
<stop offset="0.2164" stop-color="#222222"/>
<stop offset="0.2537" stop-color="#282828"/>
<stop offset="0.2836" stop-color="#2a2a2a"/>
<stop offset="0.3134" stop-color="#222222"/>
<stop offset="0.3582" stop-color="#232323"/>
<stop offset="0.3881" stop-color="#2c2c2c"/>
<stop offset="0.4179" stop-color="#3b3b3b"/>
<stop offset="0.4537" stop-color="#434343"/>
<stop offset="0.4851" stop-color="#3b3b3b"/>
<stop offset="0.5149" stop-color="#303030"/>
<stop offset="0.5522" stop-color="#2c2c2c"/>
<stop offset="0.5896" stop-color="#282828"/>
<stop offset="0.6119" stop-color="#1e1e1e"/>
<stop offset="0.6418" stop-color="#1a1a1a"/>
<stop offset="0.7015" stop-color="#1a1a1a"/>
<stop offset="0.7388" stop-color="#262626"/>
<stop offset="0.7687" stop-color="#393939"/>
<stop offset="0.7940" stop-color="#404040"/>
<stop offset="0.8209" stop-color="#3b3b3b"/>
<stop offset="0.8507" stop-color="#303030"/>
<stop offset="0.8955" stop-color="#2e2e2e"/>
<stop offset="0.9403" stop-color="#2c2c2c"/>
<stop offset="1.0000" stop-color="#2c2c2c"/>
</linearGradient>
<linearGradient id="cbc0" gradientUnits="userSpaceOnUse" x1="349" y1="0" x2="416" y2="0">
<stop offset="0.0000" stop-color="#242424"/>
<stop offset="0.0299" stop-color="#1f1f1f"/>
<stop offset="0.0896" stop-color="#1f1f1f"/>
<stop offset="0.1343" stop-color="#262626"/>
<stop offset="0.1567" stop-color="#424242"/>
<stop offset="0.1791" stop-color="#575757"/>
<stop offset="0.2090" stop-color="#595959"/>
<stop offset="0.2388" stop-color="#4c4c4c"/>
<stop offset="0.2612" stop-color="#333333"/>
<stop offset="0.2836" stop-color="#212121"/>
<stop offset="0.3433" stop-color="#242424"/>
<stop offset="0.3881" stop-color="#292929"/>
<stop offset="0.4328" stop-color="#212121"/>
<stop offset="0.4627" stop-color="#2e2e2e"/>
<stop offset="0.4851" stop-color="#474747"/>
<stop offset="0.5149" stop-color="#575757"/>
<stop offset="0.5522" stop-color="#595959"/>
<stop offset="0.5896" stop-color="#4c4c4c"/>
<stop offset="0.6194" stop-color="#333333"/>
<stop offset="0.6567" stop-color="#212121"/>
<stop offset="0.7313" stop-color="#212121"/>
<stop offset="0.7910" stop-color="#242424"/>
<stop offset="0.8134" stop-color="#3d3d3d"/>
<stop offset="0.8433" stop-color="#525252"/>
<stop offset="0.8806" stop-color="#595959"/>
<stop offset="0.9179" stop-color="#4c4c4c"/>
<stop offset="0.9403" stop-color="#333333"/>
<stop offset="1.0000" stop-color="#242424"/>
</linearGradient>
<linearGradient id="rA" gradientUnits="userSpaceOnUse" x1="0" y1="43" x2="0" y2="71.5">
<stop offset="0.0000" stop-color="#d1d1d1"/>
<stop offset="0.0526" stop-color="#dbdbdb"/>
<stop offset="0.0877" stop-color="#cccccc"/>
<stop offset="0.1228" stop-color="#bdbdbd"/>
<stop offset="0.1579" stop-color="#cccccc"/>
<stop offset="0.1930" stop-color="#adadad"/>
<stop offset="0.2281" stop-color="#9e9e9e"/>
<stop offset="0.2561" stop-color="#b2b2b2"/>
<stop offset="0.2807" stop-color="#e0e0e0"/>
<stop offset="0.3509" stop-color="#f0f0f0"/>
<stop offset="0.4386" stop-color="#ebebeb"/>
<stop offset="0.4737" stop-color="#d6d6d6"/>
<stop offset="0.5088" stop-color="#d1d1d1"/>
<stop offset="0.5509" stop-color="#999999"/>
<stop offset="0.5789" stop-color="#b8b8b8"/>
<stop offset="0.6140" stop-color="#e6e6e6"/>
<stop offset="0.6842" stop-color="#ebebeb"/>
<stop offset="0.7368" stop-color="#d6d6d6"/>
<stop offset="0.7649" stop-color="#adadad"/>
<stop offset="0.8070" stop-color="#a3a3a3"/>
<stop offset="0.8526" stop-color="#b2b2b2"/>
<stop offset="0.8772" stop-color="#e0e0e0"/>
<stop offset="0.9474" stop-color="#ebebeb"/>
<stop offset="1.0000" stop-color="#e6e6e6"/>
</linearGradient>
<linearGradient id="rA2" gradientUnits="userSpaceOnUse" x1="0" y1="43" x2="0" y2="71.5">
<stop offset="0.0000" stop-color="#999999"/>
<stop offset="0.0702" stop-color="#a3a3a3"/>
<stop offset="0.1228" stop-color="#7a7a7a"/>
<stop offset="0.1579" stop-color="#999999"/>
<stop offset="0.2281" stop-color="#999999"/>
<stop offset="0.2632" stop-color="#757575"/>
<stop offset="0.2982" stop-color="#9e9e9e"/>
<stop offset="0.3684" stop-color="#bdbdbd"/>
<stop offset="0.4386" stop-color="#9e9e9e"/>
<stop offset="0.4737" stop-color="#808080"/>
<stop offset="0.5263" stop-color="#adadad"/>
<stop offset="0.5789" stop-color="#9e9e9e"/>
<stop offset="0.6140" stop-color="#858585"/>
<stop offset="0.6667" stop-color="#bdbdbd"/>
<stop offset="0.7193" stop-color="#b2b2b2"/>
<stop offset="0.7544" stop-color="#808080"/>
<stop offset="0.8070" stop-color="#a8a8a8"/>
<stop offset="0.8596" stop-color="#a3a3a3"/>
<stop offset="0.8947" stop-color="#8a8a8a"/>
<stop offset="0.9474" stop-color="#b8b8b8"/>
<stop offset="1.0000" stop-color="#adadad"/>
</linearGradient>
<linearGradient id="rA3" gradientUnits="userSpaceOnUse" x1="0" y1="43" x2="0" y2="71.5">
<stop offset="0.0000" stop-color="#9e9e9e"/>
<stop offset="0.0702" stop-color="#a8a8a8"/>
<stop offset="0.1228" stop-color="#757575"/>
<stop offset="0.1579" stop-color="#9e9e9e"/>
<stop offset="0.1930" stop-color="#8f8f8f"/>
<stop offset="0.2281" stop-color="#707070"/>
<stop offset="0.2632" stop-color="#a8a8a8"/>
<stop offset="0.3333" stop-color="#bdbdbd"/>
<stop offset="0.4035" stop-color="#a3a3a3"/>
<stop offset="0.4386" stop-color="#7a7a7a"/>
<stop offset="0.4912" stop-color="#a8a8a8"/>
<stop offset="0.5439" stop-color="#b2b2b2"/>
<stop offset="0.5965" stop-color="#8a8a8a"/>
<stop offset="0.6491" stop-color="#bdbdbd"/>
<stop offset="0.7018" stop-color="#adadad"/>
<stop offset="0.7368" stop-color="#808080"/>
<stop offset="0.7895" stop-color="#adadad"/>
<stop offset="0.8421" stop-color="#adadad"/>
<stop offset="0.8772" stop-color="#858585"/>
<stop offset="0.9298" stop-color="#b8b8b8"/>
<stop offset="1.0000" stop-color="#b2b2b2"/>
</linearGradient>
<linearGradient id="rB" gradientUnits="userSpaceOnUse" x1="0" y1="43" x2="0" y2="56.5">
<stop offset="0.0000" stop-color="#8f8f8f"/>
<stop offset="0.1111" stop-color="#a8a8a8"/>
<stop offset="0.2222" stop-color="#b2b2b2"/>
<stop offset="0.3111" stop-color="#757575"/>
<stop offset="0.4074" stop-color="#858585"/>
<stop offset="0.4815" stop-color="#9e9e9e"/>
<stop offset="0.5926" stop-color="#b8b8b8"/>
<stop offset="0.7037" stop-color="#b2b2b2"/>
<stop offset="0.7778" stop-color="#ababab"/>
<stop offset="0.8889" stop-color="#b8b8b8"/>
<stop offset="1.0000" stop-color="#b2b2b2"/>
</linearGradient>
<linearGradient id="rB2" gradientUnits="userSpaceOnUse" x1="0" y1="43" x2="0" y2="57">
<stop offset="0.0000" stop-color="#707070"/>
<stop offset="0.1071" stop-color="#8f8f8f"/>
<stop offset="0.2143" stop-color="#9e9e9e"/>
<stop offset="0.3000" stop-color="#616161"/>
<stop offset="0.3929" stop-color="#616161"/>
<stop offset="0.4643" stop-color="#8a8a8a"/>
<stop offset="0.5714" stop-color="#858585"/>
<stop offset="0.6286" stop-color="#757575"/>
<stop offset="0.7143" stop-color="#b2b2b2"/>
<stop offset="0.8214" stop-color="#bdbdbd"/>
<stop offset="0.9286" stop-color="#a8a8a8"/>
<stop offset="1.0000" stop-color="#a3a3a3"/>
</linearGradient>
<linearGradient id="rB3" gradientUnits="userSpaceOnUse" x1="0" y1="43" x2="0" y2="57">
<stop offset="0.0000" stop-color="#7a7a7a"/>
<stop offset="0.1071" stop-color="#b2b2b2"/>
<stop offset="0.2500" stop-color="#c2c2c2"/>
<stop offset="0.3571" stop-color="#616161"/>
<stop offset="0.4643" stop-color="#6b6b6b"/>
<stop offset="0.5357" stop-color="#949494"/>
<stop offset="0.6071" stop-color="#757575"/>
<stop offset="0.6786" stop-color="#bdbdbd"/>
<stop offset="0.8214" stop-color="#cccccc"/>
<stop offset="0.9286" stop-color="#c2c2c2"/>
<stop offset="1.0000" stop-color="#adadad"/>
</linearGradient>
<linearGradient id="eac" gradientUnits="userSpaceOnUse" x1="56" y1="0" x2="123" y2="0">
<stop offset="0.0000" stop-color="#424242"/>
<stop offset="0.0045" stop-color="#424242"/>
<stop offset="0.0269" stop-color="#3b3b3b"/>
<stop offset="0.0493" stop-color="#3e3e3e"/>
<stop offset="0.0716" stop-color="#4a4a4a"/>
<stop offset="0.0866" stop-color="#606060"/>
<stop offset="0.1090" stop-color="#686868"/>
<stop offset="0.1313" stop-color="#686868"/>
<stop offset="0.1463" stop-color="#7e7e7e"/>
<stop offset="0.1612" stop-color="#a0a0a0"/>
<stop offset="0.1806" stop-color="#b7b7b7"/>
<stop offset="0.1985" stop-color="#c1c1c1"/>
<stop offset="0.2179" stop-color="#bbbbbb"/>
<stop offset="0.2373" stop-color="#a8a8a8"/>
<stop offset="0.2552" stop-color="#959595"/>
<stop offset="0.2806" stop-color="#8e8e8e"/>
<stop offset="0.3104" stop-color="#8e8e8e"/>
<stop offset="0.3299" stop-color="#8a8a8a"/>
<stop offset="0.3378" stop-color="#424242"/>
<stop offset="0.3602" stop-color="#3b3b3b"/>
<stop offset="0.3826" stop-color="#3e3e3e"/>
<stop offset="0.4050" stop-color="#4a4a4a"/>
<stop offset="0.4199" stop-color="#606060"/>
<stop offset="0.4423" stop-color="#686868"/>
<stop offset="0.4647" stop-color="#686868"/>
<stop offset="0.4796" stop-color="#7e7e7e"/>
<stop offset="0.4945" stop-color="#a0a0a0"/>
<stop offset="0.5139" stop-color="#b7b7b7"/>
<stop offset="0.5318" stop-color="#c1c1c1"/>
<stop offset="0.5512" stop-color="#bbbbbb"/>
<stop offset="0.5706" stop-color="#a8a8a8"/>
<stop offset="0.5886" stop-color="#959595"/>
<stop offset="0.6139" stop-color="#8e8e8e"/>
<stop offset="0.6438" stop-color="#8e8e8e"/>
<stop offset="0.6632" stop-color="#8a8a8a"/>
<stop offset="0.6711" stop-color="#424242"/>
<stop offset="0.6935" stop-color="#3b3b3b"/>
<stop offset="0.7159" stop-color="#3e3e3e"/>
<stop offset="0.7383" stop-color="#4a4a4a"/>
<stop offset="0.7532" stop-color="#606060"/>
<stop offset="0.7756" stop-color="#686868"/>
<stop offset="0.7980" stop-color="#686868"/>
<stop offset="0.8129" stop-color="#7e7e7e"/>
<stop offset="0.8279" stop-color="#a0a0a0"/>
<stop offset="0.8473" stop-color="#b7b7b7"/>
<stop offset="0.8652" stop-color="#c1c1c1"/>
<stop offset="0.8846" stop-color="#bbbbbb"/>
<stop offset="0.9040" stop-color="#a8a8a8"/>
<stop offset="0.9219" stop-color="#959595"/>
<stop offset="0.9473" stop-color="#8e8e8e"/>
<stop offset="0.9771" stop-color="#8e8e8e"/>
<stop offset="0.9965" stop-color="#8a8a8a"/>
<stop offset="1.0000" stop-color="#8e8e8e"/>
</linearGradient>
<linearGradient id="ead" gradientUnits="userSpaceOnUse" x1="150" y1="0" x2="217" y2="0">
<stop offset="0.0000" stop-color="#434343"/>
<stop offset="0.0299" stop-color="#3f3f3f"/>
<stop offset="0.0597" stop-color="#3f3f3f"/>
<stop offset="0.0896" stop-color="#353535"/>
<stop offset="0.1269" stop-color="#353535"/>
<stop offset="0.1493" stop-color="#5c5c5c"/>
<stop offset="0.1716" stop-color="#777777"/>
<stop offset="0.1910" stop-color="#878787"/>
<stop offset="0.2164" stop-color="#777777"/>
<stop offset="0.2388" stop-color="#626262"/>
<stop offset="0.2687" stop-color="#5c5c5c"/>
<stop offset="0.2985" stop-color="#525252"/>
<stop offset="0.3358" stop-color="#3a3a3a"/>
<stop offset="0.3731" stop-color="#303030"/>
<stop offset="0.4179" stop-color="#353535"/>
<stop offset="0.4403" stop-color="#525252"/>
<stop offset="0.4701" stop-color="#5f5f5f"/>
<stop offset="0.5000" stop-color="#737373"/>
<stop offset="0.5284" stop-color="#848484"/>
<stop offset="0.5597" stop-color="#737373"/>
<stop offset="0.5821" stop-color="#626262"/>
<stop offset="0.6119" stop-color="#5f5f5f"/>
<stop offset="0.6493" stop-color="#525252"/>
<stop offset="0.6716" stop-color="#353535"/>
<stop offset="0.7164" stop-color="#2b2b2b"/>
<stop offset="0.7612" stop-color="#303030"/>
<stop offset="0.7836" stop-color="#4d4d4d"/>
<stop offset="0.8134" stop-color="#626262"/>
<stop offset="0.8433" stop-color="#777777"/>
<stop offset="0.8687" stop-color="#818181"/>
<stop offset="0.8955" stop-color="#737373"/>
<stop offset="0.9254" stop-color="#5f5f5f"/>
<stop offset="0.9627" stop-color="#5c5c5c"/>
<stop offset="1.0000" stop-color="#575757"/>
</linearGradient>
<linearGradient id="eal" gradientUnits="userSpaceOnUse" x1="245" y1="0" x2="312" y2="0">
<stop offset="0.0000" stop-color="#454545"/>
<stop offset="0.0299" stop-color="#3b3b3b"/>
<stop offset="0.0746" stop-color="#303030"/>
<stop offset="0.1194" stop-color="#363636"/>
<stop offset="0.1493" stop-color="#5e5e5e"/>
<stop offset="0.1866" stop-color="#7b7b7b"/>
<stop offset="0.2239" stop-color="#7e7e7e"/>
<stop offset="0.2687" stop-color="#777777"/>
<stop offset="0.3060" stop-color="#656565"/>
<stop offset="0.3284" stop-color="#454545"/>
<stop offset="0.3731" stop-color="#303030"/>
<stop offset="0.4179" stop-color="#2b2b2b"/>
<stop offset="0.4552" stop-color="#404040"/>
<stop offset="0.4851" stop-color="#6d6d6d"/>
<stop offset="0.5224" stop-color="#828282"/>
<stop offset="0.5672" stop-color="#777777"/>
<stop offset="0.6119" stop-color="#6d6d6d"/>
<stop offset="0.6493" stop-color="#545454"/>
<stop offset="0.6791" stop-color="#363636"/>
<stop offset="0.7164" stop-color="#2b2b2b"/>
<stop offset="0.7537" stop-color="#363636"/>
<stop offset="0.7836" stop-color="#5e5e5e"/>
<stop offset="0.8209" stop-color="#747474"/>
<stop offset="0.8507" stop-color="#7b7b7b"/>
<stop offset="0.8955" stop-color="#707070"/>
<stop offset="0.9403" stop-color="#696969"/>
<stop offset="1.0000" stop-color="#626262"/>
</linearGradient>
<linearGradient id="ebc" gradientUnits="userSpaceOnUse" x1="349" y1="0" x2="416" y2="0">
<stop offset="0.0000" stop-color="#4d4d4d"/>
<stop offset="0.0224" stop-color="#515151"/>
<stop offset="0.0597" stop-color="#4d4d4d"/>
<stop offset="0.0896" stop-color="#404040"/>
<stop offset="0.1045" stop-color="#2b2b2b"/>
<stop offset="0.1343" stop-color="#2b2b2b"/>
<stop offset="0.1493" stop-color="#444444"/>
<stop offset="0.1672" stop-color="#6f6f6f"/>
<stop offset="0.1881" stop-color="#919191"/>
<stop offset="0.2075" stop-color="#848484"/>
<stop offset="0.2269" stop-color="#737373"/>
<stop offset="0.2463" stop-color="#6b6b6b"/>
<stop offset="0.2687" stop-color="#555555"/>
<stop offset="0.2881" stop-color="#333333"/>
<stop offset="0.3134" stop-color="#2b2b2b"/>
<stop offset="0.3358" stop-color="#3c3c3c"/>
<stop offset="0.3657" stop-color="#494949"/>
<stop offset="0.4030" stop-color="#444444"/>
<stop offset="0.4254" stop-color="#2f2f2f"/>
<stop offset="0.4552" stop-color="#262626"/>
<stop offset="0.4701" stop-color="#404040"/>
<stop offset="0.4866" stop-color="#6f6f6f"/>
<stop offset="0.5060" stop-color="#919191"/>
<stop offset="0.5254" stop-color="#848484"/>
<stop offset="0.5463" stop-color="#737373"/>
<stop offset="0.5701" stop-color="#6b6b6b"/>
<stop offset="0.5970" stop-color="#5a5a5a"/>
<stop offset="0.6194" stop-color="#494949"/>
<stop offset="0.6567" stop-color="#404040"/>
<stop offset="0.7015" stop-color="#404040"/>
<stop offset="0.7388" stop-color="#2f2f2f"/>
<stop offset="0.7687" stop-color="#262626"/>
<stop offset="0.7985" stop-color="#2b2b2b"/>
<stop offset="0.8179" stop-color="#4d4d4d"/>
<stop offset="0.8358" stop-color="#787878"/>
<stop offset="0.8537" stop-color="#919191"/>
<stop offset="0.8731" stop-color="#848484"/>
<stop offset="0.8955" stop-color="#737373"/>
<stop offset="0.9179" stop-color="#6b6b6b"/>
<stop offset="0.9403" stop-color="#555555"/>
<stop offset="1.0000" stop-color="#4d4d4d"/>
</linearGradient>
<linearGradient id="ebc2" gradientUnits="userSpaceOnUse" x1="349" y1="0" x2="416" y2="0">
<stop offset="0.0000" stop-color="#484848"/>
<stop offset="0.0299" stop-color="#3f3f3f"/>
<stop offset="0.0597" stop-color="#373737"/>
<stop offset="0.0791" stop-color="#525252"/>
<stop offset="0.0985" stop-color="#747474"/>
<stop offset="0.1224" stop-color="#878787"/>
<stop offset="0.1463" stop-color="#747474"/>
<stop offset="0.1672" stop-color="#4d4d4d"/>
<stop offset="0.1940" stop-color="#303030"/>
<stop offset="0.2164" stop-color="#3a3a3a"/>
<stop offset="0.2537" stop-color="#2b2b2b"/>
<stop offset="0.3134" stop-color="#2b2b2b"/>
<stop offset="0.3582" stop-color="#353535"/>
<stop offset="0.3821" stop-color="#525252"/>
<stop offset="0.4149" stop-color="#777777"/>
<stop offset="0.4478" stop-color="#878787"/>
<stop offset="0.4806" stop-color="#777777"/>
<stop offset="0.5075" stop-color="#484848"/>
<stop offset="0.5373" stop-color="#3a3a3a"/>
<stop offset="0.5672" stop-color="#3f3f3f"/>
<stop offset="0.6119" stop-color="#2b2b2b"/>
<stop offset="0.6716" stop-color="#2b2b2b"/>
<stop offset="0.7015" stop-color="#3f3f3f"/>
<stop offset="0.7358" stop-color="#6f6f6f"/>
<stop offset="0.7806" stop-color="#878787"/>
<stop offset="0.8179" stop-color="#6f6f6f"/>
<stop offset="0.8433" stop-color="#444444"/>
<stop offset="0.8806" stop-color="#2b2b2b"/>
<stop offset="0.9403" stop-color="#2b2b2b"/>
<stop offset="1.0000" stop-color="#2b2b2b"/>
</linearGradient>
<linearGradient id="ebd" gradientUnits="userSpaceOnUse" x1="444" y1="0" x2="511" y2="0">
<stop offset="0.0000" stop-color="#595959"/>
<stop offset="0.0299" stop-color="#393939"/>
<stop offset="0.0597" stop-color="#2e2e2e"/>
<stop offset="0.1045" stop-color="#333333"/>
<stop offset="0.1343" stop-color="#595959"/>
<stop offset="0.1716" stop-color="#767676"/>
<stop offset="0.2090" stop-color="#818181"/>
<stop offset="0.2463" stop-color="#737373"/>
<stop offset="0.2761" stop-color="#5e5e5e"/>
<stop offset="0.3134" stop-color="#3e3e3e"/>
<stop offset="0.3582" stop-color="#393939"/>
<stop offset="0.3955" stop-color="#4e4e4e"/>
<stop offset="0.4328" stop-color="#535353"/>
<stop offset="0.4701" stop-color="#6c6c6c"/>
<stop offset="0.5224" stop-color="#7d7d7d"/>
<stop offset="0.5672" stop-color="#6f6f6f"/>
<stop offset="0.5970" stop-color="#5e5e5e"/>
<stop offset="0.6418" stop-color="#595959"/>
<stop offset="0.6716" stop-color="#393939"/>
<stop offset="0.7164" stop-color="#2e2e2e"/>
<stop offset="0.7612" stop-color="#2e2e2e"/>
<stop offset="0.7910" stop-color="#494949"/>
<stop offset="0.8209" stop-color="#737373"/>
<stop offset="0.8507" stop-color="#818181"/>
<stop offset="0.8806" stop-color="#6f6f6f"/>
<stop offset="0.9104" stop-color="#5e5e5e"/>
<stop offset="0.9552" stop-color="#595959"/>
<stop offset="1.0000" stop-color="#535353"/>
</linearGradient>
<linearGradient id="ebl" gradientUnits="userSpaceOnUse" x1="539" y1="0" x2="606" y2="0">
<stop offset="0.0000" stop-color="#343434"/>
<stop offset="0.0299" stop-color="#303030"/>
<stop offset="0.0597" stop-color="#393939"/>
<stop offset="0.0896" stop-color="#343434"/>
<stop offset="0.1194" stop-color="#434343"/>
<stop offset="0.1493" stop-color="#686868"/>
<stop offset="0.1761" stop-color="#7d7d7d"/>
<stop offset="0.2015" stop-color="#686868"/>
<stop offset="0.2313" stop-color="#434343"/>
<stop offset="0.2761" stop-color="#393939"/>
<stop offset="0.3134" stop-color="#474747"/>
<stop offset="0.3433" stop-color="#4c4c4c"/>
<stop offset="0.3731" stop-color="#393939"/>
<stop offset="0.4179" stop-color="#3b3b3b"/>
<stop offset="0.4478" stop-color="#515151"/>
<stop offset="0.4776" stop-color="#727272"/>
<stop offset="0.5134" stop-color="#858585"/>
<stop offset="0.5448" stop-color="#727272"/>
<stop offset="0.5746" stop-color="#5a5a5a"/>
<stop offset="0.6119" stop-color="#515151"/>
<stop offset="0.6493" stop-color="#474747"/>
<stop offset="0.6716" stop-color="#303030"/>
<stop offset="0.7015" stop-color="#262626"/>
<stop offset="0.7612" stop-color="#262626"/>
<stop offset="0.7985" stop-color="#434343"/>
<stop offset="0.8284" stop-color="#6d6d6d"/>
<stop offset="0.8537" stop-color="#7d7d7d"/>
<stop offset="0.8806" stop-color="#727272"/>
<stop offset="0.9104" stop-color="#5a5a5a"/>
<stop offset="0.9552" stop-color="#555555"/>
<stop offset="1.0000" stop-color="#515151"/>
</linearGradient>
<linearGradient id="ebd2" gradientUnits="userSpaceOnUse" x1="444" y1="0" x2="511" y2="0">
<stop offset="0.0000" stop-color="#313131"/>
<stop offset="0.0373" stop-color="#313131"/>
<stop offset="0.0672" stop-color="#525252"/>
<stop offset="0.1045" stop-color="#6d6d6d"/>
<stop offset="0.1418" stop-color="#767676"/>
<stop offset="0.1791" stop-color="#696969"/>
<stop offset="0.2090" stop-color="#575757"/>
<stop offset="0.2463" stop-color="#3b3b3b"/>
<stop offset="0.2910" stop-color="#363636"/>
<stop offset="0.3284" stop-color="#494949"/>
<stop offset="0.3657" stop-color="#4e4e4e"/>
<stop offset="0.4030" stop-color="#636363"/>
<stop offset="0.4552" stop-color="#737373"/>
<stop offset="0.5000" stop-color="#666666"/>
<stop offset="0.5299" stop-color="#575757"/>
<stop offset="0.5746" stop-color="#525252"/>
<stop offset="0.6045" stop-color="#363636"/>
<stop offset="0.6493" stop-color="#2d2d2d"/>
<stop offset="0.6940" stop-color="#2d2d2d"/>
<stop offset="0.7239" stop-color="#444444"/>
<stop offset="0.7537" stop-color="#696969"/>
<stop offset="0.7836" stop-color="#767676"/>
<stop offset="0.8134" stop-color="#666666"/>
<stop offset="0.8433" stop-color="#575757"/>
<stop offset="0.8881" stop-color="#525252"/>
<stop offset="0.9328" stop-color="#4e4e4e"/>
<stop offset="1.0000" stop-color="#4e4e4e"/>
</linearGradient>
<linearGradient id="ebl2" gradientUnits="userSpaceOnUse" x1="539.0" y1="0" x2="606" y2="0">
<stop offset="0.0000" stop-color="#383838"/>
<stop offset="0.0299" stop-color="#333333"/>
<stop offset="0.0597" stop-color="#404040"/>
<stop offset="0.0896" stop-color="#626262"/>
<stop offset="0.1164" stop-color="#747474"/>
<stop offset="0.1418" stop-color="#626262"/>
<stop offset="0.1716" stop-color="#404040"/>
<stop offset="0.2164" stop-color="#383838"/>
<stop offset="0.2537" stop-color="#444444"/>
<stop offset="0.2836" stop-color="#484848"/>
<stop offset="0.3134" stop-color="#383838"/>
<stop offset="0.3582" stop-color="#393939"/>
<stop offset="0.3881" stop-color="#4d4d4d"/>
<stop offset="0.4179" stop-color="#6a6a6a"/>
<stop offset="0.4537" stop-color="#7b7b7b"/>
<stop offset="0.4851" stop-color="#6a6a6a"/>
<stop offset="0.5149" stop-color="#555555"/>
<stop offset="0.5522" stop-color="#4d4d4d"/>
<stop offset="0.5896" stop-color="#444444"/>
<stop offset="0.6119" stop-color="#2f2f2f"/>
<stop offset="0.6418" stop-color="#272727"/>
<stop offset="0.7015" stop-color="#272727"/>
<stop offset="0.7388" stop-color="#404040"/>
<stop offset="0.7687" stop-color="#666666"/>
<stop offset="0.7940" stop-color="#747474"/>
<stop offset="0.8209" stop-color="#6a6a6a"/>
<stop offset="0.8507" stop-color="#555555"/>
<stop offset="0.8955" stop-color="#515151"/>
<stop offset="0.9403" stop-color="#4d4d4d"/>
<stop offset="1.0000" stop-color="#4d4d4d"/>
</linearGradient>
<linearGradient id="ebc0" gradientUnits="userSpaceOnUse" x1="349" y1="0" x2="416" y2="0">
<stop offset="0.0000" stop-color="#343434"/>
<stop offset="0.0299" stop-color="#2b2b2b"/>
<stop offset="0.0896" stop-color="#2b2b2b"/>
<stop offset="0.1343" stop-color="#393939"/>
<stop offset="0.1567" stop-color="#696969"/>
<stop offset="0.1791" stop-color="#8d8d8d"/>
<stop offset="0.2090" stop-color="#919191"/>
<stop offset="0.2388" stop-color="#7b7b7b"/>
<stop offset="0.2612" stop-color="#4f4f4f"/>
<stop offset="0.2836" stop-color="#303030"/>
<stop offset="0.3433" stop-color="#343434"/>
<stop offset="0.3881" stop-color="#3d3d3d"/>
<stop offset="0.4328" stop-color="#303030"/>
<stop offset="0.4627" stop-color="#464646"/>
<stop offset="0.4851" stop-color="#727272"/>
<stop offset="0.5149" stop-color="#8d8d8d"/>
<stop offset="0.5522" stop-color="#919191"/>
<stop offset="0.5896" stop-color="#7b7b7b"/>
<stop offset="0.6194" stop-color="#4f4f4f"/>
<stop offset="0.6567" stop-color="#303030"/>
<stop offset="0.7313" stop-color="#303030"/>
<stop offset="0.7910" stop-color="#343434"/>
<stop offset="0.8134" stop-color="#616161"/>
<stop offset="0.8433" stop-color="#848484"/>
<stop offset="0.8806" stop-color="#919191"/>
<stop offset="0.9179" stop-color="#7b7b7b"/>
<stop offset="0.9403" stop-color="#4f4f4f"/>
<stop offset="1.0000" stop-color="#343434"/>
</linearGradient>
<linearGradient id="tmac" gradientUnits="userSpaceOnUse" x1="56" y1="0" x2="78.333" y2="0" spreadMethod="repeat"><stop offset="0" stop-color="#000" stop-opacity="0.3"/><stop offset="0.1" stop-color="#000" stop-opacity="0.15"/><stop offset="0.25" stop-color="#000" stop-opacity="0"/><stop offset="0.35" stop-color="#fff" stop-opacity="0"/><stop offset="0.55" stop-color="#fff" stop-opacity="0.15"/><stop offset="0.72" stop-color="#fff" stop-opacity="0"/><stop offset="0.8" stop-color="#000" stop-opacity="0"/><stop offset="0.92" stop-color="#000" stop-opacity="0.15"/><stop offset="1" stop-color="#000" stop-opacity="0.3"/></linearGradient>
<linearGradient id="tmad" gradientUnits="userSpaceOnUse" x1="150" y1="0" x2="172.333" y2="0" spreadMethod="repeat"><stop offset="0" stop-color="#000" stop-opacity="0.3"/><stop offset="0.1" stop-color="#000" stop-opacity="0.15"/><stop offset="0.25" stop-color="#000" stop-opacity="0"/><stop offset="0.35" stop-color="#fff" stop-opacity="0"/><stop offset="0.55" stop-color="#fff" stop-opacity="0.15"/><stop offset="0.72" stop-color="#fff" stop-opacity="0"/><stop offset="0.8" stop-color="#000" stop-opacity="0"/><stop offset="0.92" stop-color="#000" stop-opacity="0.15"/><stop offset="1" stop-color="#000" stop-opacity="0.3"/></linearGradient>
<linearGradient id="tmal" gradientUnits="userSpaceOnUse" x1="245" y1="0" x2="267.333" y2="0" spreadMethod="repeat"><stop offset="0" stop-color="#000" stop-opacity="0.3"/><stop offset="0.1" stop-color="#000" stop-opacity="0.15"/><stop offset="0.25" stop-color="#000" stop-opacity="0"/><stop offset="0.35" stop-color="#fff" stop-opacity="0"/><stop offset="0.55" stop-color="#fff" stop-opacity="0.15"/><stop offset="0.72" stop-color="#fff" stop-opacity="0"/><stop offset="0.8" stop-color="#000" stop-opacity="0"/><stop offset="0.92" stop-color="#000" stop-opacity="0.15"/><stop offset="1" stop-color="#000" stop-opacity="0.3"/></linearGradient>
<linearGradient id="tmbc" gradientUnits="userSpaceOnUse" x1="349" y1="0" x2="371.333" y2="0" spreadMethod="repeat"><stop offset="0" stop-color="#000" stop-opacity="0.3"/><stop offset="0.1" stop-color="#000" stop-opacity="0.15"/><stop offset="0.25" stop-color="#000" stop-opacity="0"/><stop offset="0.35" stop-color="#fff" stop-opacity="0"/><stop offset="0.55" stop-color="#fff" stop-opacity="0.15"/><stop offset="0.72" stop-color="#fff" stop-opacity="0"/><stop offset="0.8" stop-color="#000" stop-opacity="0"/><stop offset="0.92" stop-color="#000" stop-opacity="0.15"/><stop offset="1" stop-color="#000" stop-opacity="0.3"/></linearGradient>
<linearGradient id="tmbd" gradientUnits="userSpaceOnUse" x1="444" y1="0" x2="466.333" y2="0" spreadMethod="repeat"><stop offset="0" stop-color="#000" stop-opacity="0.3"/><stop offset="0.1" stop-color="#000" stop-opacity="0.15"/><stop offset="0.25" stop-color="#000" stop-opacity="0"/><stop offset="0.35" stop-color="#fff" stop-opacity="0"/><stop offset="0.55" stop-color="#fff" stop-opacity="0.15"/><stop offset="0.72" stop-color="#fff" stop-opacity="0"/><stop offset="0.8" stop-color="#000" stop-opacity="0"/><stop offset="0.92" stop-color="#000" stop-opacity="0.15"/><stop offset="1" stop-color="#000" stop-opacity="0.3"/></linearGradient>
<linearGradient id="tmbl" gradientUnits="userSpaceOnUse" x1="539" y1="0" x2="561.333" y2="0" spreadMethod="repeat"><stop offset="0" stop-color="#000" stop-opacity="0.3"/><stop offset="0.1" stop-color="#000" stop-opacity="0.15"/><stop offset="0.25" stop-color="#000" stop-opacity="0"/><stop offset="0.35" stop-color="#fff" stop-opacity="0"/><stop offset="0.55" stop-color="#fff" stop-opacity="0.15"/><stop offset="0.72" stop-color="#fff" stop-opacity="0"/><stop offset="0.8" stop-color="#000" stop-opacity="0"/><stop offset="0.92" stop-color="#000" stop-opacity="0.15"/><stop offset="1" stop-color="#000" stop-opacity="0.3"/></linearGradient>
<linearGradient id="cbar" x1="0" y1="1" x2="0" y2="0">
<stop offset="0.0000" stop-color="rgb(0,0,0)"/>
<stop offset="0.0323" stop-color="rgb(0,0,61)"/>
<stop offset="0.0645" stop-color="rgb(1,0,96)"/>
<stop offset="0.0968" stop-color="rgb(25,0,130)"/>
<stop offset="0.1290" stop-color="rgb(49,0,165)"/>
<stop offset="0.1613" stop-color="rgb(73,0,192)"/>
<stop offset="0.1935" stop-color="rgb(98,0,220)"/>
<stop offset="0.2258" stop-color="rgb(122,0,227)"/>
<stop offset="0.2581" stop-color="rgb(146,0,210)"/>
<stop offset="0.2903" stop-color="rgb(162,0,181)"/>
<stop offset="0.3226" stop-color="rgb(173,0,151)"/>
<stop offset="0.3548" stop-color="rgb(184,0,122)"/>
<stop offset="0.3871" stop-color="rgb(195,0,93)"/>
<stop offset="0.4194" stop-color="rgb(207,14,64)"/>
<stop offset="0.4516" stop-color="rgb(217,35,35)"/>
<stop offset="0.4839" stop-color="rgb(229,57,5)"/>
<stop offset="0.5161" stop-color="rgb(240,79,0)"/>
<stop offset="0.5484" stop-color="rgb(252,101,0)"/>
<stop offset="0.5806" stop-color="rgb(255,117,0)"/>
<stop offset="0.6129" stop-color="rgb(255,133,0)"/>
<stop offset="0.6452" stop-color="rgb(255,147,0)"/>
<stop offset="0.6774" stop-color="rgb(255,161,0)"/>
<stop offset="0.7097" stop-color="rgb(255,175,0)"/>
<stop offset="0.7419" stop-color="rgb(255,190,0)"/>
<stop offset="0.7742" stop-color="rgb(255,205,0)"/>
<stop offset="0.8065" stop-color="rgb(255,219,35)"/>
<stop offset="0.8387" stop-color="rgb(255,234,98)"/>
<stop offset="0.8710" stop-color="rgb(255,248,160)"/>
<stop offset="0.9032" stop-color="rgb(255,255,223)"/>
<stop offset="0.9355" stop-color="rgb(255,255,255)"/>
<stop offset="0.9677" stop-color="rgb(255,255,255)"/>
<stop offset="1.0000" stop-color="rgb(255,255,255)"/>
</linearGradient>
<radialGradient id="spot"><stop offset="0" stop-color="#000" stop-opacity="0.35"/><stop offset="1" stop-color="#000" stop-opacity="0"/></radialGradient>
</defs>
<g filter="url(#fac)">
<rect x="56" y="43" width="67" height="862" fill="url(#cac)"/>
<rect x="56" y="157" width="67" height="38" fill="#1c1c1c" opacity="0.15"/>
<rect x="56" y="289" width="67" height="25" fill="#1c1c1c" opacity="0.15"/>
<rect x="56" y="648" width="67" height="27" fill="#1c1c1c" opacity="0.12"/>
</g>
<g filter="url(#tac)">
<rect x="56" y="43" width="67" height="28.5" fill="url(#rA)"/>
<ellipse cx="77.5" cy="52.5" rx="4" ry="2.6" fill="url(#spot)"/>
<ellipse cx="76.5" cy="65" rx="3.5" ry="1.8" fill="url(#spot)"/>
<ellipse cx="99.5" cy="52.5" rx="4" ry="2.6" fill="url(#spot)"/>
<ellipse cx="98.5" cy="65" rx="3.5" ry="1.8" fill="url(#spot)"/>
<ellipse cx="122" cy="52.5" rx="4" ry="2.6" fill="url(#spot)"/>
<ellipse cx="121" cy="65" rx="3.5" ry="1.8" fill="url(#spot)"/>
</g>
<g filter="url(#fad)">
<rect x="150" y="43" width="67" height="862" fill="url(#cad)"/>
<rect x="193" y="100" width="11" height="100" fill="#1c1c1c" opacity="0.35"/>
<rect x="150" y="72" width="67" height="28" fill="url(#ead)" opacity="0.25"/>
<rect x="150" y="214.5" width="67" height="3.0" fill="url(#ead)" opacity="0.65"/>
<rect x="150" y="222" width="67" height="2" fill="url(#ead)" opacity="0.4"/>
<rect x="150" y="240" width="67" height="100" fill="url(#ead)" opacity="0.1"/>
<rect x="150" y="349" width="67" height="6" fill="url(#ead)" opacity="0.35"/>
<rect x="150" y="359.5" width="67" height="3.5" fill="url(#ead)" opacity="0.75"/>
<rect x="150" y="700" width="67" height="90" fill="url(#ead)" opacity="0.18"/>
<rect x="150" y="782" width="67" height="2.5" fill="url(#ead)" opacity="0.5"/>
<rect x="150" y="875" width="67" height="30" fill="url(#ead)" opacity="0.35"/>
</g>
<g filter="url(#tad)">
<rect x="150" y="43" width="67" height="28.5" fill="url(#rA2)"/>
<rect x="150" y="43" width="67" height="5" fill="url(#tmad)" opacity="0.4"/>
<rect x="150" y="50" width="67" height="6.5" fill="url(#tmad)" opacity="0.8"/>
<rect x="150" y="58" width="67" height="4" fill="url(#tmad)" opacity="0.4"/>
<rect x="150" y="62" width="67" height="6" fill="url(#tmad)" opacity="0.6"/>
</g>
<g filter="url(#fal)">
<rect x="245" y="43" width="67" height="862" fill="url(#cal)"/>
<rect x="245" y="700" width="67" height="205" fill="#1c1c1c" opacity="0.2"/>
<rect x="245" y="470" width="67" height="60" fill="url(#eal)" opacity="0.2"/>
<rect x="245" y="592" width="67" height="2.5" fill="url(#eal)" opacity="0.55"/>
<rect x="290" y="620" width="22" height="40" fill="url(#eal)" opacity="0.2"/>
</g>
<g filter="url(#tal)">
<rect x="245" y="43" width="67" height="28.5" fill="url(#rA3)"/>
<rect x="245" y="43" width="67" height="5" fill="url(#tmal)" opacity="0.35"/>
<rect x="245" y="50" width="67" height="6.5" fill="url(#tmal)" opacity="0.8"/>
<rect x="245" y="58" width="67" height="4" fill="url(#tmal)" opacity="0.4"/>
<rect x="245" y="62" width="67" height="6" fill="url(#tmal)" opacity="0.6"/>
</g>
<g filter="url(#fbc)">
<rect x="349" y="43" width="67" height="610" fill="url(#cbc)"/>
<rect x="349" y="653" width="67" height="252" fill="url(#cbc2)"/>
<rect x="349" y="43" width="67" height="62" fill="url(#cbc0)" opacity="1"/>
<rect x="349" y="105" width="67" height="8" fill="url(#cbc0)" opacity="0.8"/>
<rect x="349" y="113" width="67" height="8" fill="url(#cbc0)" opacity="0.6"/>
<rect x="349" y="121" width="67" height="8" fill="url(#cbc0)" opacity="0.4"/>
<rect x="349" y="129" width="67" height="8" fill="url(#cbc0)" opacity="0.2"/>
<rect x="349" y="125" width="67" height="2.5" fill="url(#ebc)" opacity="0.45"/>
<rect x="349" y="158" width="67" height="3" fill="url(#ebc)" opacity="0.75"/>
<rect x="349" y="415.5" width="67" height="2.5" fill="url(#ebc)" opacity="0.55"/>
<rect x="349" y="436" width="67" height="14" fill="url(#ebc)" opacity="0.2"/>
<rect x="349" y="870" width="67" height="30" fill="url(#ebc2)" opacity="0.15"/>
</g>
<g filter="url(#tbc)">
<rect x="349" y="43" width="67" height="13.5" fill="url(#rB)"/>
<rect x="349" y="43" width="67" height="5.5" fill="url(#tmbc)" opacity="0.8"/>
<rect x="349" y="49" width="67" height="7.5" fill="url(#tmbc)" opacity="0.4"/>
</g>
<g filter="url(#fbd)">
<rect x="444" y="43" width="67" height="611" fill="url(#cbd)"/>
<rect x="444" y="654" width="67" height="251" fill="url(#cbd2)"/>
<rect x="444" y="85" width="67" height="5" fill="url(#ebd)" opacity="0.45"/>
<rect x="444" y="141" width="67" height="4" fill="url(#ebd)" opacity="0.35"/>
<rect x="444" y="145" width="67" height="5" fill="url(#ebd)" opacity="0.55"/>
<rect x="444" y="150" width="67" height="3" fill="url(#ebd)" opacity="0.35"/>
<rect x="444" y="154" width="67" height="10" fill="url(#ebd)" opacity="0.35"/>
<rect x="444" y="164" width="67" height="36" fill="url(#ebd)" opacity="0.25"/>
<rect x="444" y="330" width="67" height="24" fill="url(#ebd)" opacity="0.12"/>
<rect x="444" y="390" width="67" height="60" fill="url(#ebd)" opacity="0.1"/>
<rect x="444" y="497" width="67" height="48" fill="url(#ebd)" opacity="0.1"/>
<rect x="444" y="586" width="67" height="6" fill="url(#ebd)" opacity="0.3"/>
<rect x="444" y="684.5" width="67" height="3.0" fill="url(#ebd2)" opacity="0.6"/>
<rect x="444" y="826" width="67" height="2.5" fill="url(#ebd2)" opacity="0.45"/>
<rect x="444" y="846" width="67" height="3" fill="url(#ebd2)" opacity="0.45"/>
<rect x="444" y="867" width="67" height="34" fill="url(#ebd2)" opacity="0.25"/>
</g>
<g filter="url(#tbd)">
<rect x="444" y="43" width="67" height="14" fill="url(#rB2)"/>
<rect x="444" y="43" width="67" height="5.5" fill="url(#tmbd)" opacity="1.0"/>
<rect x="444" y="49" width="67" height="8" fill="url(#tmbd)" opacity="0.5"/>
</g>
<g filter="url(#fbl)">
<rect x="539" y="43" width="67" height="611" fill="url(#cbl)"/>
<rect x="539" y="654" width="67" height="251" fill="url(#cbl2)"/>
<rect x="539" y="57.5" width="67" height="4.5" fill="url(#ebl)" opacity="0.6"/>
<rect x="539" y="255" width="23" height="65" fill="url(#ebl)" opacity="0.3"/>
<rect x="588" y="255" width="18" height="65" fill="url(#ebl)" opacity="0.3"/>
<rect x="543" y="386" width="15" height="8" fill="url(#ebl)" opacity="0.45"/>
<rect x="543" y="561" width="15" height="9" fill="url(#ebl)" opacity="0.45"/>
<rect x="539" y="702" width="16" height="8" fill="url(#ebl2)" opacity="0.45"/>
<rect x="588" y="726" width="12" height="8" fill="url(#ebl2)" opacity="0.45"/>
<rect x="539" y="766" width="16" height="7" fill="url(#ebl2)" opacity="0.45"/>
</g>
<g filter="url(#tbl)">
<rect x="539" y="43" width="67" height="14" fill="url(#rB3)"/>
<rect x="539" y="43" width="67" height="6" fill="url(#tmbl)" opacity="0.8"/>
<rect x="539" y="49" width="67" height="8" fill="url(#tmbl)" opacity="0.5"/>
</g>
<g fill="#000">
<rect x="42.3" y="42" width="2.9" height="863.5"/>
<rect x="42.3" y="42.1" width="9.5" height="2.8"/>
<rect x="42.3" y="254.8" width="9.5" height="2.8"/>
<rect x="42.3" y="469.1" width="9.5" height="2.8"/>
<rect x="42.3" y="684.4" width="9.5" height="2.8"/>
<rect x="42.3" y="902.3" width="9.5" height="2.8"/>
</g>
<g font-size="13" fill="#222" text-anchor="end">
<text x="36.6" y="47.4">0</text>
<text x="36.3" y="261.3">5</text>
<text x="39" y="477.5">10</text>
<text x="36.3" y="691.6">15</text>
<text x="37.7" y="905.7">20</text>
</g>
<text transform="translate(18.2,465.8) rotate(-90)" font-size="18" fill="#222" text-anchor="middle">Time (µs)</text>
<text x="56.5" y="20.3" font-size="23.5" font-weight="bold" fill="#000">A</text>
<text x="80" y="20" font-size="18" fill="#222">C1-ABC-3 (N-state)</text>
<text x="349" y="20.3" font-size="23.5" font-weight="bold" fill="#000">B</text>
<text x="370.3" y="20" font-size="18.2" fill="#222">P1-ABC-2 (I-state)</text>
<g font-size="13" font-weight="bold" fill="#111" text-anchor="middle">
<text x="93.3" y="37.6">CHOL</text>
<text x="189.3" y="37.6">DPPC</text>
<text x="283" y="37.6">DLPC</text>
<text x="387.5" y="37.6">CHOL</text>
<text x="479" y="37.6">DPPC</text>
<text x="578" y="37.6">DLPC</text>
</g>
<rect x="56" y="916.9" width="14.6" height="3" fill="#1533e6"/><path d="M69.1,914.2 L77.6,918.4 L69.1,922.6 Z" fill="#1533e6"/>
<rect x="78.7" y="916.9" width="15.0" height="3" fill="#f02a0c"/><path d="M92.2,914.2 L100.7,918.4 L92.2,922.6 Z" fill="#f02a0c"/>
<rect x="101.8" y="916.9" width="14.7" height="3" fill="#858585"/><path d="M115.0,914.2 L123.5,918.4 L115.0,922.6 Z" fill="#858585"/>
<rect x="150" y="916.9" width="14.6" height="3" fill="#1533e6"/><path d="M163.1,914.2 L171.6,918.4 L163.1,922.6 Z" fill="#1533e6"/>
<rect x="172.7" y="916.9" width="15.0" height="3" fill="#f02a0c"/><path d="M186.2,914.2 L194.7,918.4 L186.2,922.6 Z" fill="#f02a0c"/>
<rect x="195.8" y="916.9" width="14.7" height="3" fill="#858585"/><path d="M209.0,914.2 L217.5,918.4 L209.0,922.6 Z" fill="#858585"/>
<rect x="245" y="916.9" width="14.6" height="3" fill="#1533e6"/><path d="M258.1,914.2 L266.6,918.4 L258.1,922.6 Z" fill="#1533e6"/>
<rect x="267.7" y="916.9" width="15.0" height="3" fill="#f02a0c"/><path d="M281.2,914.2 L289.7,918.4 L281.2,922.6 Z" fill="#f02a0c"/>
<rect x="290.8" y="916.9" width="14.7" height="3" fill="#858585"/><path d="M304.0,914.2 L312.5,918.4 L304.0,922.6 Z" fill="#858585"/>
<rect x="349" y="914.9" width="14.6" height="3" fill="#1533e6"/><path d="M362.1,912.2 L370.6,916.4 L362.1,920.6 Z" fill="#1533e6"/>
<rect x="371.7" y="914.9" width="15.0" height="3" fill="#f02a0c"/><path d="M385.2,912.2 L393.7,916.4 L385.2,920.6 Z" fill="#f02a0c"/>
<rect x="395.1" y="914.9" width="15.0" height="3" fill="#858585"/><path d="M408.6,912.2 L417.1,916.4 L408.6,920.6 Z" fill="#858585"/>
<rect x="444" y="914.9" width="14.6" height="3" fill="#1533e6"/><path d="M457.1,912.2 L465.6,916.4 L457.1,920.6 Z" fill="#1533e6"/>
<rect x="466.7" y="914.9" width="15.0" height="3" fill="#f02a0c"/><path d="M480.2,912.2 L488.7,916.4 L480.2,920.6 Z" fill="#f02a0c"/>
<rect x="490.1" y="914.9" width="15.0" height="3" fill="#858585"/><path d="M503.6,912.2 L512.1,916.4 L503.6,920.6 Z" fill="#858585"/>
<rect x="539" y="914.9" width="14.6" height="3" fill="#1533e6"/><path d="M552.1,912.2 L560.6,916.4 L552.1,920.6 Z" fill="#1533e6"/>
<rect x="561.7" y="914.9" width="15.0" height="3" fill="#f02a0c"/><path d="M575.2,912.2 L583.7,916.4 L575.2,920.6 Z" fill="#f02a0c"/>
<rect x="585.0999999999999" y="914.9" width="15.0" height="3" fill="#858585"/><path d="M598.6,912.2 L607.1,916.4 L598.6,920.6 Z" fill="#858585"/>
<text x="621.5" y="921" font-size="18" font-weight="bold" fill="#111">chain</text>
<rect x="656.2" y="250.2" width="15.6" height="282" fill="url(#cbar)" stroke="#444" stroke-width="1"/>
<g fill="#222">
<rect x="681.5" y="250" width="1.6" height="282.5"/>
<rect x="675.2" y="531.2" width="13" height="1.6"/>
<rect x="675.2" y="474.9" width="13" height="1.6"/>
<rect x="675.2" y="418.6" width="13" height="1.6"/>
<rect x="675.2" y="362.3" width="13" height="1.6"/>
<rect x="675.2" y="306.0" width="13" height="1.6"/>
<rect x="675.2" y="249.7" width="13" height="1.6"/>
</g>
<g font-size="13" fill="#222">
<text x="693.5" y="537.4">0</text>
<text x="693.5" y="481.1">1</text>
<text x="693.5" y="424.8">2</text>
<text x="693.5" y="368.5">3</text>
<text x="693.5" y="312.2">4</text>
<text x="693.5" y="255.9">5</text>
</g>
<text transform="translate(648,396.8) rotate(-90)" font-size="15.4" fill="#222" text-anchor="middle">Fibril-lipid minimum distance (nm)</text>
</svg></body></html>
